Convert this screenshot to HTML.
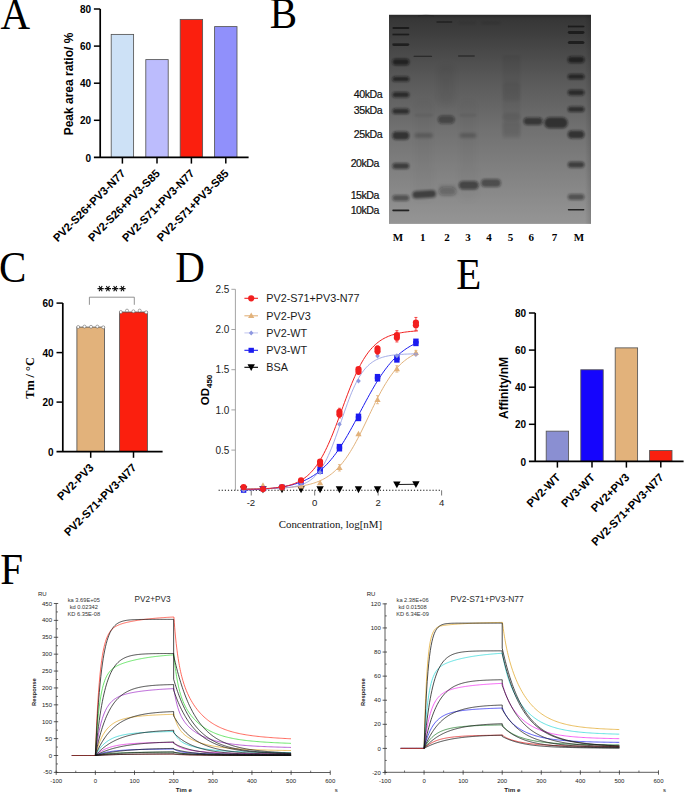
<!DOCTYPE html>
<html><head><meta charset="utf-8"><title>Figure</title>
<style>
html,body{margin:0;padding:0;background:#fff;}
body{width:685px;height:793px;overflow:hidden;font-family:"Liberation Sans", sans-serif;}
svg{display:block;position:absolute;left:0;top:0;}
</style></head><body>
<svg width="685" height="793" viewBox="0 0 685 793">
<text transform="translate(0.5,28.7) scale(1,1.075)" font-family='"Liberation Serif", serif' font-size="41" fill="#000">A</text>
<rect x="111.2" y="34.4" width="22.4" height="123" fill="#cde1f6" stroke="#555" stroke-width="0.85"/>
<rect x="145.8" y="59.6" width="22.4" height="97.8" fill="#bcbcfd" stroke="#555" stroke-width="0.85"/>
<rect x="180.2" y="19.4" width="22.4" height="138" fill="#fb1f0e" stroke="#555" stroke-width="0.85"/>
<rect x="214.6" y="26.6" width="22.4" height="130.8" fill="#9090fb" stroke="#555" stroke-width="0.85"/>
<path d="M100.2,9 V158.25 M93.9,157.4 H248.6" stroke="#000" stroke-width="1.7" fill="none"/>
<path d="M93.9,120.3 H100.2" stroke="#000" stroke-width="1.5"/>
<path d="M93.9,83.2 H100.2" stroke="#000" stroke-width="1.5"/>
<path d="M93.9,46.1 H100.2" stroke="#000" stroke-width="1.5"/>
<path d="M93.9,9 H100.2" stroke="#000" stroke-width="1.5"/>
<text x="91" y="161.5" font-family='"Liberation Sans", sans-serif' font-weight="bold" font-size="10" text-anchor="end">0</text>
<text x="91" y="124.4" font-family='"Liberation Sans", sans-serif' font-weight="bold" font-size="10" text-anchor="end">20</text>
<text x="91" y="87.3" font-family='"Liberation Sans", sans-serif' font-weight="bold" font-size="10" text-anchor="end">40</text>
<text x="91" y="50.2" font-family='"Liberation Sans", sans-serif' font-weight="bold" font-size="10" text-anchor="end">60</text>
<text x="91" y="13.1" font-family='"Liberation Sans", sans-serif' font-weight="bold" font-size="10" text-anchor="end">80</text>
<path d="M122.4,157.4 V163.6" stroke="#000" stroke-width="1.5"/>
<path d="M157,157.4 V163.6" stroke="#000" stroke-width="1.5"/>
<path d="M191.4,157.4 V163.6" stroke="#000" stroke-width="1.5"/>
<path d="M225.8,157.4 V163.6" stroke="#000" stroke-width="1.5"/>
<text transform="translate(126.1,174.2) rotate(-45)" font-family='"Liberation Sans", sans-serif' font-weight="bold" font-size="11.2" text-anchor="end">PV2-S26+PV3-N77</text>
<text transform="translate(160.7,174.2) rotate(-45)" font-family='"Liberation Sans", sans-serif' font-weight="bold" font-size="11.2" text-anchor="end">PV2-S26+PV3-S85</text>
<text transform="translate(195.1,174.2) rotate(-45)" font-family='"Liberation Sans", sans-serif' font-weight="bold" font-size="11.2" text-anchor="end">PV2-S71+PV3-N77</text>
<text transform="translate(229.5,174.2) rotate(-45)" font-family='"Liberation Sans", sans-serif' font-weight="bold" font-size="11.2" text-anchor="end">PV2-S71+PV3-S85</text>
<text transform="translate(72.5,84) rotate(-90)" font-family='"Liberation Sans", sans-serif' font-weight="bold" font-size="12" text-anchor="middle">Peak area ratio/ %</text>
<text transform="translate(269.8,27.9) scale(1,1.075)" font-family='"Liberation Serif", serif' font-size="41" fill="#000">B</text>
<defs><linearGradient id="gbg" x1="0" y1="0" x2="0" y2="1"><stop offset="0" stop-color="#343434"/><stop offset="0.08" stop-color="#3d3d3d"/><stop offset="0.3" stop-color="#585858"/><stop offset="0.55" stop-color="#717171"/><stop offset="0.8" stop-color="#858585"/><stop offset="1" stop-color="#959595"/></linearGradient><linearGradient id="ghz" x1="0" y1="0" x2="1" y2="0"><stop offset="0" stop-color="#000" stop-opacity="0.0"/><stop offset="0.97" stop-color="#000" stop-opacity="0"/><stop offset="1" stop-color="#000" stop-opacity="0.13"/></linearGradient><filter id="b0" x="-30%" y="-300%" width="160%" height="700%"><feGaussianBlur stdDeviation="0.5"/></filter><filter id="b1" x="-30%" y="-300%" width="160%" height="700%"><feGaussianBlur stdDeviation="0.85"/></filter><filter id="b2" x="-30%" y="-300%" width="160%" height="700%"><feGaussianBlur stdDeviation="1.4"/></filter><filter id="b3" x="-30%" y="-100%" width="160%" height="300%"><feGaussianBlur stdDeviation="3"/></filter><clipPath id="gclip"><rect x="389" y="14.8" width="202" height="209.1"/></clipPath></defs>
<rect x="389" y="14.8" width="202" height="209.1" fill="url(#gbg)"/>
<g clip-path="url(#gclip)">
<rect x="389" y="14.8" width="202" height="209.1" fill="url(#ghz)"/>
<rect x="502.5" y="55" width="18" height="84" rx="1" fill="#141414" fill-opacity="0.05" filter="url(#b1)"/>
<rect x="502.5" y="83" width="18" height="18" rx="3" fill="#141414" fill-opacity="0.05" filter="url(#b2)"/>
<rect x="502.5" y="113" width="18" height="8" rx="4" fill="#141414" fill-opacity="0.08" filter="url(#b2)"/>
<rect x="502.5" y="122" width="18" height="14" rx="3" fill="#141414" fill-opacity="0.07" filter="url(#b2)"/>
<rect x="437.5" y="65" width="17.5" height="40" rx="5" fill="#141414" fill-opacity="0.05" filter="url(#b3)"/>
<rect x="414" y="100" width="19" height="100" rx="5" fill="#141414" fill-opacity="0.025" filter="url(#b3)"/>
<rect x="459" y="100" width="18" height="100" rx="5" fill="#141414" fill-opacity="0.025" filter="url(#b3)"/>
<rect x="392.3" y="27.1" width="17" height="1.8" rx="0.9" fill="#141414" fill-opacity="0.75" filter="url(#b0)"/>
<rect x="392.3" y="33.4" width="17" height="2" rx="1" fill="#141414" fill-opacity="0.75" filter="url(#b0)"/>
<rect x="392.3" y="43.2" width="17" height="2.8" rx="1.4" fill="#141414" fill-opacity="0.72" filter="url(#b0)"/>
<rect x="392.3" y="58.8" width="17" height="6.4" rx="3.2" fill="#141414" fill-opacity="0.72" filter="url(#b1)"/>
<rect x="392.3" y="76.4" width="17" height="5.2" rx="2.6" fill="#141414" fill-opacity="0.7" filter="url(#b1)"/>
<rect x="392.3" y="91.9" width="17" height="5.6" rx="2.8" fill="#141414" fill-opacity="0.68" filter="url(#b1)"/>
<rect x="392.3" y="108.5" width="17" height="5.6" rx="2.8" fill="#141414" fill-opacity="0.66" filter="url(#b1)"/>
<rect x="392.3" y="131.6" width="17" height="8.2" rx="4.1" fill="#141414" fill-opacity="0.66" filter="url(#b1)"/>
<rect x="392.3" y="162.9" width="17" height="6" rx="3" fill="#141414" fill-opacity="0.6" filter="url(#b1)"/>
<rect x="392.3" y="195" width="17" height="6" rx="3" fill="#141414" fill-opacity="0.48" filter="url(#b1)"/>
<rect x="392.3" y="209.6" width="17" height="1.6" rx="0.8" fill="#141414" fill-opacity="0.9" filter="url(#b0)"/>
<rect x="567.8" y="25.4" width="16.6" height="2" rx="1" fill="#141414" fill-opacity="0.75" filter="url(#b0)"/>
<rect x="567.8" y="31.1" width="16.6" height="2.8" rx="1.4" fill="#141414" fill-opacity="0.72" filter="url(#b0)"/>
<rect x="567.8" y="40.9" width="16.6" height="3" rx="1.5" fill="#141414" fill-opacity="0.72" filter="url(#b0)"/>
<rect x="567.8" y="56.6" width="16.6" height="6.4" rx="3.2" fill="#141414" fill-opacity="0.72" filter="url(#b1)"/>
<rect x="567.8" y="74.1" width="16.6" height="5.2" rx="2.6" fill="#141414" fill-opacity="0.7" filter="url(#b1)"/>
<rect x="567.8" y="89.8" width="16.6" height="5.6" rx="2.8" fill="#141414" fill-opacity="0.68" filter="url(#b1)"/>
<rect x="567.8" y="106.5" width="16.6" height="5.6" rx="2.8" fill="#141414" fill-opacity="0.66" filter="url(#b1)"/>
<rect x="567.8" y="130.4" width="16.6" height="8.2" rx="4.1" fill="#141414" fill-opacity="0.66" filter="url(#b1)"/>
<rect x="567.8" y="161.8" width="16.6" height="6" rx="3" fill="#141414" fill-opacity="0.6" filter="url(#b1)"/>
<rect x="567.8" y="193.9" width="16.6" height="6" rx="3" fill="#141414" fill-opacity="0.48" filter="url(#b1)"/>
<rect x="567.8" y="209" width="16.6" height="1.6" rx="0.8" fill="#141414" fill-opacity="0.9" filter="url(#b0)"/>
<rect x="413.4" y="55.7" width="18.7" height="1.4" rx="0.7" fill="#141414" fill-opacity="0.58" filter="url(#b0)"/>
<rect x="414.5" y="114.3" width="18.5" height="2" rx="1" fill="#141414" fill-opacity="0.1" filter="url(#b1)"/>
<rect x="414.5" y="133" width="18.5" height="5" rx="2.5" fill="#141414" fill-opacity="0.2" filter="url(#b2)"/>
<rect x="-11.8" y="-3.8" width="23.6" height="7.6" rx="3.6" fill="#141414" fill-opacity="0.62" filter="url(#b1)" transform="translate(424.2,194.3) rotate(-3.5)"/>
<rect x="439" y="184" width="17" height="4" rx="2" fill="#141414" fill-opacity="0.06" filter="url(#b2)"/>
<rect x="436.5" y="21.25" width="15.8" height="1.5" rx="0.75" fill="#141414" fill-opacity="0.7" filter="url(#b0)"/>
<rect x="437.8" y="115.4" width="17" height="8.4" rx="4.2" fill="#141414" fill-opacity="0.45" filter="url(#b1)"/>
<rect x="438.6" y="186.9" width="17.7" height="8.6" rx="4.3" fill="#141414" fill-opacity="0.3" filter="url(#b2)"/>
<rect x="458.2" y="55.25" width="16.5" height="1.5" rx="0.75" fill="#141414" fill-opacity="0.6" filter="url(#b0)"/>
<rect x="459.5" y="114.3" width="16.9" height="2" rx="1" fill="#141414" fill-opacity="0.1" filter="url(#b1)"/>
<rect x="459.5" y="133" width="16.9" height="5" rx="2.5" fill="#141414" fill-opacity="0.2" filter="url(#b2)"/>
<rect x="458.7" y="181.1" width="20.1" height="8.4" rx="4.2" fill="#141414" fill-opacity="0.56" filter="url(#b1)"/>
<rect x="458.5" y="22" width="17.5" height="2" rx="1" fill="#141414" fill-opacity="0.12" filter="url(#b2)"/>
<rect x="481" y="179" width="19.9" height="8" rx="4" fill="#141414" fill-opacity="0.5" filter="url(#b1)"/>
<rect x="481" y="21.75" width="19.7" height="2.5" rx="1.25" fill="#141414" fill-opacity="0.12" filter="url(#b2)"/>
<rect x="523.6" y="117.6" width="19" height="7.4" rx="3.7" fill="#141414" fill-opacity="0.6" filter="url(#b1)"/>
<rect x="544.2" y="117.3" width="23.6" height="11" rx="5.5" fill="#141414" fill-opacity="0.66" filter="url(#b1)"/>
<rect x="389" y="14.6" width="202" height="2" rx="1" fill="#141414" fill-opacity="0.3" filter="url(#b1)"/>
<path d="M418,16 Q426,13.5 434,16" stroke="#222" stroke-width="1" fill="none" opacity="0.6"/>
</g>
<text x="382.2" y="98" font-family='"Liberation Sans", sans-serif' font-size="10.6" text-anchor="end" letter-spacing="-0.45" fill="#111" stroke="#111" stroke-width="0.2">40kDa</text>
<text x="382.2" y="113.7" font-family='"Liberation Sans", sans-serif' font-size="10.6" text-anchor="end" letter-spacing="-0.45" fill="#111" stroke="#111" stroke-width="0.2">35kDa</text>
<text x="382.2" y="138" font-family='"Liberation Sans", sans-serif' font-size="10.6" text-anchor="end" letter-spacing="-0.45" fill="#111" stroke="#111" stroke-width="0.2">25kDa</text>
<text x="379.0" y="166.8" font-family='"Liberation Sans", sans-serif' font-size="10.6" text-anchor="end" letter-spacing="-0.45" fill="#111" stroke="#111" stroke-width="0.2">20kDa</text>
<text x="379.0" y="199" font-family='"Liberation Sans", sans-serif' font-size="10.6" text-anchor="end" letter-spacing="-0.45" fill="#111" stroke="#111" stroke-width="0.2">15kDa</text>
<text x="379.0" y="213.8" font-family='"Liberation Sans", sans-serif' font-size="10.6" text-anchor="end" letter-spacing="-0.45" fill="#111" stroke="#111" stroke-width="0.2">10kDa</text>
<text x="398" y="240.8" font-family='"Liberation Serif", serif' font-weight="bold" font-size="11" text-anchor="middle">M</text>
<text x="422.7" y="240.8" font-family='"Liberation Serif", serif' font-weight="bold" font-size="11" text-anchor="middle">1</text>
<text x="447" y="240.8" font-family='"Liberation Serif", serif' font-weight="bold" font-size="11" text-anchor="middle">2</text>
<text x="468" y="240.8" font-family='"Liberation Serif", serif' font-weight="bold" font-size="11" text-anchor="middle">3</text>
<text x="489" y="240.8" font-family='"Liberation Serif", serif' font-weight="bold" font-size="11" text-anchor="middle">4</text>
<text x="510.4" y="240.8" font-family='"Liberation Serif", serif' font-weight="bold" font-size="11" text-anchor="middle">5</text>
<text x="531.3" y="240.8" font-family='"Liberation Serif", serif' font-weight="bold" font-size="11" text-anchor="middle">6</text>
<text x="554.4" y="240.8" font-family='"Liberation Serif", serif' font-weight="bold" font-size="11" text-anchor="middle">7</text>
<text x="579" y="240.8" font-family='"Liberation Serif", serif' font-weight="bold" font-size="11" text-anchor="middle">M</text>
<text transform="translate(-1,282.3) scale(1,1.075)" font-family='"Liberation Serif", serif' font-size="41" fill="#000">C</text>
<rect x="76.9" y="327.11" width="27.6" height="124.49" fill="#e2b27b" stroke="#555" stroke-width="0.85"/>
<rect x="119.6" y="312.01" width="27.8" height="139.59" fill="#fb1f0e" stroke="#555" stroke-width="0.85"/>
<circle cx="78.2" cy="327" r="1.5" fill="#fff" stroke="#555" stroke-width="0.5"/>
<circle cx="84.5" cy="326.6" r="1.5" fill="#fff" stroke="#555" stroke-width="0.5"/>
<circle cx="91" cy="326.8" r="1.5" fill="#fff" stroke="#555" stroke-width="0.5"/>
<circle cx="97.3" cy="326.6" r="1.5" fill="#fff" stroke="#555" stroke-width="0.5"/>
<circle cx="103.3" cy="327.3" r="1.5" fill="#fff" stroke="#555" stroke-width="0.5"/>
<circle cx="120.8" cy="312" r="1.5" fill="#fff" stroke="#555" stroke-width="0.5"/>
<circle cx="127" cy="310.6" r="1.5" fill="#fff" stroke="#555" stroke-width="0.5"/>
<circle cx="133.4" cy="311.3" r="1.5" fill="#fff" stroke="#555" stroke-width="0.5"/>
<circle cx="139.7" cy="310.6" r="1.5" fill="#fff" stroke="#555" stroke-width="0.5"/>
<circle cx="146.2" cy="312.3" r="1.5" fill="#fff" stroke="#555" stroke-width="0.5"/>
<path d="M62.8,303.1 V452.45 M56.5,451.6 H162.6" stroke="#000" stroke-width="1.7" fill="none"/>
<path d="M56.5,402.1 H62.8" stroke="#000" stroke-width="1.5"/>
<path d="M56.5,352.6 H62.8" stroke="#000" stroke-width="1.5"/>
<path d="M56.5,303.1 H62.8" stroke="#000" stroke-width="1.5"/>
<text x="53.6" y="455.7" font-family='"Liberation Sans", sans-serif' font-weight="bold" font-size="10" text-anchor="end">0</text>
<text x="53.6" y="406.2" font-family='"Liberation Sans", sans-serif' font-weight="bold" font-size="10" text-anchor="end">20</text>
<text x="53.6" y="356.7" font-family='"Liberation Sans", sans-serif' font-weight="bold" font-size="10" text-anchor="end">40</text>
<text x="53.6" y="307.2" font-family='"Liberation Sans", sans-serif' font-weight="bold" font-size="10" text-anchor="end">60</text>
<path d="M90.7,451.6 V457.8" stroke="#000" stroke-width="1.5"/>
<path d="M133.5,451.6 V457.8" stroke="#000" stroke-width="1.5"/>
<text transform="translate(94.4,468.4) rotate(-45)" font-family='"Liberation Sans", sans-serif' font-weight="bold" font-size="11.2" text-anchor="end">PV2-PV3</text>
<text transform="translate(137.2,468.4) rotate(-45)" font-family='"Liberation Sans", sans-serif' font-weight="bold" font-size="11.2" text-anchor="end">PV2-S71+PV3-N77</text>
<path d="M89.4,304.8 V297.2 H134.3 V304.8" stroke="#777" stroke-width="0.8" fill="none"/>
<path d="M97.5,288.6 L103.7,288.6 M99.05,285.92 L102.15,291.28 M102.15,285.92 L99.05,291.28 " stroke="#111" stroke-width="1.1"/>
<path d="M104.8,288.6 L111,288.6 M106.35,285.92 L109.45,291.28 M109.45,285.92 L106.35,291.28 " stroke="#111" stroke-width="1.1"/>
<path d="M112.1,288.6 L118.3,288.6 M113.65,285.92 L116.75,291.28 M116.75,285.92 L113.65,291.28 " stroke="#111" stroke-width="1.1"/>
<path d="M119.4,288.6 L125.6,288.6 M120.95,285.92 L124.05,291.28 M124.05,285.92 L120.95,291.28 " stroke="#111" stroke-width="1.1"/>
<text transform="translate(34.3,378) rotate(-90)" font-family='"Liberation Serif", serif' font-weight="bold" font-size="12.2" text-anchor="middle">Tm / &#176;C</text>
<text transform="translate(175.2,282) scale(1,1.075)" font-family='"Liberation Serif", serif' font-size="41" fill="#000">D</text>
<path d="M235.4,289.3 V490.3" stroke="#9a9a9a" stroke-width="0.9"/>
<path d="M231.4,450.1 H235.4" stroke="#9a9a9a" stroke-width="0.9"/>
<text x="229.4" y="453.7" font-family='"Liberation Sans", sans-serif' font-size="10" fill="#222" text-anchor="end">0.5</text>
<path d="M231.4,409.9 H235.4" stroke="#9a9a9a" stroke-width="0.9"/>
<text x="229.4" y="413.5" font-family='"Liberation Sans", sans-serif' font-size="10" fill="#222" text-anchor="end">1.0</text>
<path d="M231.4,369.7 H235.4" stroke="#9a9a9a" stroke-width="0.9"/>
<text x="229.4" y="373.3" font-family='"Liberation Sans", sans-serif' font-size="10" fill="#222" text-anchor="end">1.5</text>
<path d="M231.4,329.5 H235.4" stroke="#9a9a9a" stroke-width="0.9"/>
<text x="229.4" y="333.1" font-family='"Liberation Sans", sans-serif' font-size="10" fill="#222" text-anchor="end">2.0</text>
<path d="M231.4,289.3 H235.4" stroke="#9a9a9a" stroke-width="0.9"/>
<text x="229.4" y="292.9" font-family='"Liberation Sans", sans-serif' font-size="10" fill="#222" text-anchor="end">2.5</text>
<path d="M218.6,490.3 H441.5" stroke="#111" stroke-width="1.1" stroke-dasharray="1.2,1.9"/>
<path d="M251.24,490.3 V495.5" stroke="#666" stroke-width="0.9"/>
<text x="250.94" y="506.2" font-family='"Liberation Sans", sans-serif' font-size="9.6" fill="#222" text-anchor="middle">-2</text>
<path d="M314.7,490.3 V495.5" stroke="#666" stroke-width="0.9"/>
<text x="314.7" y="506.2" font-family='"Liberation Sans", sans-serif' font-size="9.6" fill="#222" text-anchor="middle">0</text>
<path d="M378.16,490.3 V495.5" stroke="#666" stroke-width="0.9"/>
<text x="378.16" y="506.2" font-family='"Liberation Sans", sans-serif' font-size="9.6" fill="#222" text-anchor="middle">2</text>
<path d="M441.62,490.3 V495.5" stroke="#666" stroke-width="0.9"/>
<text x="441.62" y="506.2" font-family='"Liberation Sans", sans-serif' font-size="9.6" fill="#222" text-anchor="middle">4</text>
<text x="330.4" y="527.6" font-family='"Liberation Serif", serif' font-size="10.9" fill="#111" text-anchor="middle">Concentration, log[nM]</text>
<text transform="translate(209.3,390) rotate(-90)" font-family='"Liberation Sans", sans-serif' font-weight="bold" font-size="11.5" text-anchor="middle">OD<tspan font-size="8" dy="3">450</tspan></text>
<polyline points="415.92,484.27 396.88,484.51" fill="none" stroke="#000" stroke-width="0.9"/>
<path d="M415.92,488.07 l3.7,-6.9 h-7.4z" fill="#000"/>
<path d="M396.88,488.31 l3.7,-6.9 h-7.4z" fill="#000"/>
<path d="M377.53,493.14 l3.7,-6.9 h-7.4z" fill="#000"/>
<path d="M358.49,493.14 l3.7,-6.9 h-7.4z" fill="#000"/>
<path d="M339.45,493.14 l3.7,-6.9 h-7.4z" fill="#000"/>
<path d="M320.09,493.14 l3.7,-6.9 h-7.4z" fill="#000"/>
<path d="M301.06,493.14 l3.7,-6.9 h-7.4z" fill="#000"/>
<path d="M282.02,493.14 l3.7,-6.9 h-7.4z" fill="#000"/>
<path d="M262.98,493.14 l3.7,-6.9 h-7.4z" fill="#000"/>
<path d="M243.62,493.14 l3.7,-6.9 h-7.4z" fill="#000"/>
<polyline points="241.72,488.72 243.19,488.71 244.66,488.7 246.12,488.69 247.59,488.68 249.06,488.67 250.53,488.66 251.99,488.65 253.46,488.63 254.93,488.62 256.4,488.6 257.86,488.58 259.33,488.56 260.8,488.54 262.27,488.52 263.73,488.49 265.2,488.46 266.67,488.43 268.14,488.4 269.6,488.36 271.07,488.32 272.54,488.28 274.01,488.23 275.47,488.18 276.94,488.12 278.41,488.06 279.88,488 281.34,487.93 282.81,487.85 284.28,487.76 285.75,487.67 287.21,487.57 288.68,487.46 290.15,487.34 291.62,487.21 293.08,487.07 294.55,486.91 296.02,486.75 297.49,486.57 298.95,486.37 300.42,486.15 301.89,485.92 303.36,485.67 304.82,485.39 306.29,485.09 307.76,484.77 309.23,484.42 310.69,484.04 312.16,483.63 313.63,483.18 315.1,482.7 316.56,482.18 318.03,481.61 319.5,481 320.97,480.34 322.43,479.63 323.9,478.87 325.37,478.04 326.84,477.16 328.3,476.2 329.77,475.18 331.24,474.09 332.71,472.91 334.17,471.66 335.64,470.32 337.11,468.89 338.58,467.37 340.04,465.76 341.51,464.05 342.98,462.24 344.45,460.33 345.91,458.32 347.38,456.2 348.85,453.99 350.32,451.68 351.78,449.26 353.25,446.76 354.72,444.16 356.19,441.48 357.65,438.72 359.12,435.88 360.59,432.98 362.06,430.03 363.52,427.03 364.99,423.99 366.46,420.93 367.93,417.86 369.39,414.78 370.86,411.71 372.33,408.66 373.8,405.64 375.26,402.66 376.73,399.74 378.2,396.87 379.67,394.07 381.13,391.35 382.6,388.72 384.07,386.17 385.54,383.71 387,381.35 388.47,379.09 389.94,376.92 391.41,374.86 392.87,372.91 394.34,371.05 395.81,369.29 397.28,367.63 398.74,366.07 400.21,364.6 401.68,363.22 403.15,361.92 404.61,360.71 406.08,359.58 407.55,358.52 409.02,357.54 410.48,356.62 411.95,355.76 413.42,354.97 414.89,354.23 416.35,353.55 417.82,352.92" fill="none" stroke="#e2b27b" stroke-width="1.0"/>
<path d="M415.92,349.52 l3.1,5.6 h-6.2z" fill="#e2b27b"/>
<path d="M396.88,365.6 l3.1,5.6 h-6.2z" fill="#e2b27b"/>
<path d="M377.53,396.39 l3.1,5.6 h-6.2z" fill="#e2b27b"/>
<path d="M358.49,430.72 l3.1,5.6 h-6.2z" fill="#e2b27b"/>
<path d="M339.45,464.49 l3.1,5.6 h-6.2z" fill="#e2b27b"/>
<path d="M320.09,479.76 l3.1,5.6 h-6.2z" fill="#e2b27b"/>
<path d="M301.06,482.98 l3.1,5.6 h-6.2z" fill="#e2b27b"/>
<path d="M282.02,484.59 l3.1,5.6 h-6.2z" fill="#e2b27b"/>
<path d="M262.98,482.18 l3.1,5.6 h-6.2z" fill="#e2b27b"/>
<path d="M243.62,485.39 l3.1,5.6 h-6.2z" fill="#e2b27b"/>
<polyline points="241.72,490.02 243.19,489.99 244.66,489.95 246.12,489.9 247.59,489.86 249.06,489.81 250.53,489.75 251.99,489.69 253.46,489.63 254.93,489.57 256.4,489.5 257.86,489.42 259.33,489.34 260.8,489.25 262.27,489.16 263.73,489.06 265.2,488.95 266.67,488.83 268.14,488.71 269.6,488.58 271.07,488.43 272.54,488.28 274.01,488.12 275.47,487.94 276.94,487.76 278.41,487.56 279.88,487.34 281.34,487.11 282.81,486.87 284.28,486.6 285.75,486.32 287.21,486.02 288.68,485.7 290.15,485.36 291.62,484.99 293.08,484.6 294.55,484.18 296.02,483.73 297.49,483.26 298.95,482.75 300.42,482.21 301.89,481.63 303.36,481.02 304.82,480.37 306.29,479.67 307.76,478.93 309.23,478.15 310.69,477.32 312.16,476.43 313.63,475.5 315.1,474.51 316.56,473.46 318.03,472.35 319.5,471.18 320.97,469.95 322.43,468.65 323.9,467.28 325.37,465.84 326.84,464.34 328.3,462.75 329.77,461.1 331.24,459.37 332.71,457.56 334.17,455.68 335.64,453.72 337.11,451.69 338.58,449.58 340.04,447.4 341.51,445.15 342.98,442.83 344.45,440.45 345.91,438 347.38,435.49 348.85,432.94 350.32,430.33 351.78,427.68 353.25,424.99 354.72,422.27 356.19,419.53 357.65,416.76 359.12,413.98 360.59,411.2 362.06,408.42 363.52,405.65 364.99,402.9 366.46,400.16 367.93,397.46 369.39,394.79 370.86,392.16 372.33,389.58 373.8,387.05 375.26,384.57 376.73,382.16 378.2,379.8 379.67,377.52 381.13,375.3 382.6,373.16 384.07,371.09 385.54,369.1 387,367.18 388.47,365.33 389.94,363.57 391.41,361.87 392.87,360.25 394.34,358.71 395.81,357.24 397.28,355.83 398.74,354.5 400.21,353.24 401.68,352.03 403.15,350.9 404.61,349.82 406.08,348.8 407.55,347.84 409.02,346.93 410.48,346.07 411.95,345.27 413.42,344.51 414.89,343.79 416.35,343.12 417.82,342.48" fill="none" stroke="#1b1bf0" stroke-width="1.0"/>
<rect x="413.22" y="338.56" width="5.4" height="5" fill="#1b1bf0"/>
<rect x="413.22" y="341.16" width="5.4" height="5" fill="#1b1bf0"/>
<rect x="394.18" y="355.05" width="5.4" height="5" fill="#1b1bf0"/>
<rect x="394.18" y="357.65" width="5.4" height="5" fill="#1b1bf0"/>
<rect x="374.83" y="373.94" width="5.4" height="5" fill="#1b1bf0"/>
<rect x="374.83" y="376.54" width="5.4" height="5" fill="#1b1bf0"/>
<rect x="355.79" y="413.58" width="5.4" height="5" fill="#1b1bf0"/>
<rect x="355.79" y="416.18" width="5.4" height="5" fill="#1b1bf0"/>
<rect x="336.75" y="443.89" width="5.4" height="5" fill="#1b1bf0"/>
<rect x="336.75" y="446.49" width="5.4" height="5" fill="#1b1bf0"/>
<rect x="317.39" y="466.4" width="5.4" height="5" fill="#1b1bf0"/>
<rect x="317.39" y="469" width="5.4" height="5" fill="#1b1bf0"/>
<rect x="298.36" y="479.76" width="5.4" height="5" fill="#1b1bf0"/>
<rect x="279.32" y="484.58" width="5.4" height="5" fill="#1b1bf0"/>
<rect x="260.28" y="486.19" width="5.4" height="5" fill="#1b1bf0"/>
<rect x="240.92" y="487.8" width="5.4" height="5" fill="#1b1bf0"/>
<polyline points="241.72,488.86 243.19,488.86 244.66,488.85 246.12,488.85 247.59,488.84 249.06,488.84 250.53,488.83 251.99,488.83 253.46,488.82 254.93,488.81 256.4,488.8 257.86,488.79 259.33,488.77 260.8,488.76 262.27,488.74 263.73,488.72 265.2,488.7 266.67,488.67 268.14,488.65 269.6,488.61 271.07,488.58 272.54,488.54 274.01,488.49 275.47,488.43 276.94,488.37 278.41,488.3 279.88,488.23 281.34,488.14 282.81,488.04 284.28,487.92 285.75,487.79 287.21,487.64 288.68,487.48 290.15,487.29 291.62,487.08 293.08,486.83 294.55,486.56 296.02,486.25 297.49,485.9 298.95,485.51 300.42,485.06 301.89,484.56 303.36,483.99 304.82,483.36 306.29,482.64 307.76,481.84 309.23,480.94 310.69,479.93 312.16,478.8 313.63,477.55 315.1,476.16 316.56,474.61 318.03,472.9 319.5,471.02 320.97,468.95 322.43,466.69 323.9,464.23 325.37,461.56 326.84,458.68 328.3,455.59 329.77,452.29 331.24,448.8 332.71,445.12 334.17,441.27 335.64,437.27 337.11,433.15 338.58,428.94 340.04,424.67 341.51,420.37 342.98,416.08 344.45,411.82 345.91,407.65 347.38,403.57 348.85,399.64 350.32,395.85 351.78,392.25 353.25,388.83 354.72,385.62 356.19,382.62 357.65,379.82 359.12,377.24 360.59,374.86 362.06,372.68 363.52,370.69 364.99,368.88 366.46,367.24 367.93,365.76 369.39,364.42 370.86,363.22 372.33,362.15 373.8,361.19 375.26,360.33 376.73,359.56 378.2,358.88 379.67,358.27 381.13,357.73 382.6,357.25 384.07,356.83 385.54,356.46 387,356.12 388.47,355.83 389.94,355.57 391.41,355.34 392.87,355.14 394.34,354.96 395.81,354.8 397.28,354.66 398.74,354.53 400.21,354.43 401.68,354.33 403.15,354.25 404.61,354.17 406.08,354.11 407.55,354.05 409.02,354 410.48,353.95 411.95,353.91 413.42,353.88 414.89,353.85 416.35,353.82 417.82,353.8" fill="none" stroke="#8e98e0" stroke-width="0.8"/>
<path d="M415.92,351.92 l2.3,2.5 l-2.3,2.5 l-2.3,-2.5z" fill="#8e98e0"/>
<path d="M396.88,353.13 l2.3,2.5 l-2.3,2.5 l-2.3,-2.5z" fill="#8e98e0"/>
<path d="M377.53,353.53 l2.3,2.5 l-2.3,2.5 l-2.3,-2.5z" fill="#8e98e0"/>
<path d="M358.49,378.46 l2.3,2.5 l-2.3,2.5 l-2.3,-2.5z" fill="#8e98e0"/>
<path d="M339.45,421.87 l2.3,2.5 l-2.3,2.5 l-2.3,-2.5z" fill="#8e98e0"/>
<path d="M320.09,470.11 l2.3,2.5 l-2.3,2.5 l-2.3,-2.5z" fill="#8e98e0"/>
<path d="M301.06,480.56 l2.3,2.5 l-2.3,2.5 l-2.3,-2.5z" fill="#8e98e0"/>
<path d="M282.02,484.58 l2.3,2.5 l-2.3,2.5 l-2.3,-2.5z" fill="#8e98e0"/>
<path d="M262.98,486.19 l2.3,2.5 l-2.3,2.5 l-2.3,-2.5z" fill="#8e98e0"/>
<path d="M243.62,487.8 l2.3,2.5 l-2.3,2.5 l-2.3,-2.5z" fill="#8e98e0"/>
<polyline points="241.72,489.33 243.19,489.31 244.66,489.29 246.12,489.27 247.59,489.25 249.06,489.22 250.53,489.19 251.99,489.16 253.46,489.13 254.93,489.09 256.4,489.04 257.86,489 259.33,488.94 260.8,488.88 262.27,488.82 263.73,488.75 265.2,488.67 266.67,488.58 268.14,488.49 269.6,488.38 271.07,488.26 272.54,488.13 274.01,487.99 275.47,487.83 276.94,487.66 278.41,487.47 279.88,487.26 281.34,487.02 282.81,486.76 284.28,486.48 285.75,486.17 287.21,485.82 288.68,485.44 290.15,485.03 291.62,484.57 293.08,484.06 294.55,483.51 296.02,482.9 297.49,482.23 298.95,481.5 300.42,480.7 301.89,479.83 303.36,478.87 304.82,477.83 306.29,476.69 307.76,475.46 309.23,474.11 310.69,472.66 312.16,471.08 313.63,469.37 315.1,467.54 316.56,465.56 318.03,463.44 319.5,461.17 320.97,458.75 322.43,456.17 323.9,453.44 325.37,450.55 326.84,447.51 328.3,444.32 329.77,440.99 331.24,437.53 332.71,433.94 334.17,430.25 335.64,426.45 337.11,422.58 338.58,418.64 340.04,414.65 341.51,410.65 342.98,406.64 344.45,402.64 345.91,398.68 347.38,394.77 348.85,390.94 350.32,387.2 351.78,383.57 353.25,380.05 354.72,376.66 356.19,373.41 357.65,370.3 359.12,367.35 360.59,364.55 362.06,361.91 363.52,359.42 364.99,357.08 366.46,354.9 367.93,352.86 369.39,350.96 370.86,349.2 372.33,347.57 373.8,346.06 375.26,344.67 376.73,343.39 378.2,342.21 379.67,341.12 381.13,340.13 382.6,339.22 384.07,338.39 385.54,337.63 387,336.94 388.47,336.31 389.94,335.73 391.41,335.2 392.87,334.73 394.34,334.29 395.81,333.9 397.28,333.54 398.74,333.21 400.21,332.91 401.68,332.65 403.15,332.4 404.61,332.18 406.08,331.98 407.55,331.8 409.02,331.63 410.48,331.48 411.95,331.35 413.42,331.23 414.89,331.12 416.35,331.02 417.82,330.93" fill="none" stroke="#f21f1f" stroke-width="1.0"/>
<circle cx="415.92" cy="322.57" r="3.1" fill="#f21f1f"/>
<circle cx="415.92" cy="325.17" r="3.1" fill="#f21f1f"/>
<circle cx="396.88" cy="335.03" r="3.1" fill="#f21f1f"/>
<circle cx="396.88" cy="337.63" r="3.1" fill="#f21f1f"/>
<circle cx="377.53" cy="348.7" r="3.1" fill="#f21f1f"/>
<circle cx="377.53" cy="351.3" r="3.1" fill="#f21f1f"/>
<circle cx="358.49" cy="369.2" r="3.1" fill="#f21f1f"/>
<circle cx="358.49" cy="371.8" r="3.1" fill="#f21f1f"/>
<circle cx="339.45" cy="411.82" r="3.1" fill="#f21f1f"/>
<circle cx="339.45" cy="414.42" r="3.1" fill="#f21f1f"/>
<circle cx="320.09" cy="461.66" r="3.1" fill="#f21f1f"/>
<circle cx="320.09" cy="464.26" r="3.1" fill="#f21f1f"/>
<circle cx="301.06" cy="480.25" r="3.1" fill="#f21f1f"/>
<circle cx="282.02" cy="487.08" r="3.1" fill="#f21f1f"/>
<circle cx="262.98" cy="489.09" r="3.1" fill="#f21f1f"/>
<circle cx="243.62" cy="487.08" r="3.1" fill="#f21f1f"/>
<path d="M415.92,317.44 V330.3 M414.42,317.44 h3 M414.42,330.3 h3" stroke="#f21f1f" stroke-width="0.8"/>
<path d="M396.88,330.71 V341.96 M395.38,330.71 h3 M395.38,341.96 h3" stroke="#f21f1f" stroke-width="0.8"/>
<path d="M377.53,345.98 V354.02 M376.03,345.98 h3 M376.03,354.02 h3" stroke="#f21f1f" stroke-width="0.8"/>
<path d="M339.45,408.29 V417.94 M337.95,408.29 h3 M337.95,417.94 h3" stroke="#f21f1f" stroke-width="0.8"/>
<path d="M320.09,459.75 V466.18 M318.59,459.75 h3 M318.59,466.18 h3" stroke="#f21f1f" stroke-width="0.8"/>
<path d="M377.53,395.67 V403.71 M376.03,395.67 h3 M376.03,403.71 h3" stroke="#e2b27b" stroke-width="0.8"/>
<path d="M396.88,365.68 V372.11 M395.38,365.68 h3 M395.38,372.11 h3" stroke="#e2b27b" stroke-width="0.8"/>
<path d="M339.45,464.57 V471 M337.95,464.57 h3 M337.95,471 h3" stroke="#e2b27b" stroke-width="0.8"/>
<path d="M415.92,350.4 V355.23 M414.42,350.4 h3 M414.42,355.23 h3" stroke="#e2b27b" stroke-width="0.8"/>
<path d="M244.4,298.3 H258" stroke="#f21f1f" stroke-width="1.1"/>
<circle cx="251.2" cy="298.3" r="3.1" fill="#f21f1f"/>
<text x="266.3" y="302.2" font-family='"Liberation Sans", sans-serif' font-size="10.8" fill="#1a1a1a">PV2-S71+PV3-N77</text>
<path d="M244.4,315.8 H258" stroke="#e2b27b" stroke-width="1.1"/>
<path d="M251.2,312.5 l3.1,5.6 h-6.2z" fill="#e2b27b"/>
<text x="266.3" y="319.7" font-family='"Liberation Sans", sans-serif' font-size="10.8" fill="#1a1a1a">PV2-PV3</text>
<path d="M244.4,332.9 H258" stroke="#c6caf0" stroke-width="1.1"/>
<path d="M251.2,330.4 l2.3,2.5 l-2.3,2.5 l-2.3,-2.5z" fill="#8e98e0"/>
<text x="266.3" y="336.8" font-family='"Liberation Sans", sans-serif' font-size="10.8" fill="#1a1a1a">PV2-WT</text>
<path d="M244.4,350.3 H258" stroke="#1b1bf0" stroke-width="1.1"/>
<rect x="248.5" y="347.8" width="5.4" height="5" fill="#1b1bf0"/>
<text x="266.3" y="354.2" font-family='"Liberation Sans", sans-serif' font-size="10.8" fill="#1a1a1a">PV3-WT</text>
<path d="M244.4,367.3 H258" stroke="#000" stroke-width="1.1"/>
<path d="M251.2,371.1 l3.7,-6.9 h-7.4z" fill="#000"/>
<text x="266.3" y="371.2" font-family='"Liberation Sans", sans-serif' font-size="10.8" fill="#1a1a1a">BSA</text>
<text transform="translate(456.3,289) scale(1,1.075)" font-family='"Liberation Serif", serif' font-size="41" fill="#000">E</text>
<rect x="546.2" y="431.16" width="22.4" height="30.24" fill="#8a8fd2" stroke="#555" stroke-width="0.85"/>
<rect x="580.8" y="369.76" width="22.4" height="91.64" fill="#1505fd" stroke="#555" stroke-width="0.85"/>
<rect x="615.2" y="347.87" width="22.4" height="113.53" fill="#e2b27b" stroke="#555" stroke-width="0.85"/>
<rect x="649.6" y="450.46" width="22.4" height="10.94" fill="#f9200f" stroke="#555" stroke-width="0.85"/>
<path d="M535.2,313 V462.25 M528.9,461.4 H683.6" stroke="#000" stroke-width="1.7" fill="none"/>
<path d="M528.9,424.3 H535.2" stroke="#000" stroke-width="1.5"/>
<path d="M528.9,387.2 H535.2" stroke="#000" stroke-width="1.5"/>
<path d="M528.9,350.1 H535.2" stroke="#000" stroke-width="1.5"/>
<path d="M528.9,313 H535.2" stroke="#000" stroke-width="1.5"/>
<text x="526" y="465.5" font-family='"Liberation Sans", sans-serif' font-weight="bold" font-size="10" text-anchor="end">0</text>
<text x="526" y="428.4" font-family='"Liberation Sans", sans-serif' font-weight="bold" font-size="10" text-anchor="end">20</text>
<text x="526" y="391.3" font-family='"Liberation Sans", sans-serif' font-weight="bold" font-size="10" text-anchor="end">40</text>
<text x="526" y="354.2" font-family='"Liberation Sans", sans-serif' font-weight="bold" font-size="10" text-anchor="end">60</text>
<text x="526" y="317.1" font-family='"Liberation Sans", sans-serif' font-weight="bold" font-size="10" text-anchor="end">80</text>
<path d="M557.4,461.4 V467.6" stroke="#000" stroke-width="1.5"/>
<path d="M592,461.4 V467.6" stroke="#000" stroke-width="1.5"/>
<path d="M626.4,461.4 V467.6" stroke="#000" stroke-width="1.5"/>
<path d="M660.8,461.4 V467.6" stroke="#000" stroke-width="1.5"/>
<text transform="translate(561.1,478.2) rotate(-45)" font-family='"Liberation Sans", sans-serif' font-weight="bold" font-size="11.2" text-anchor="end">PV2-WT</text>
<text transform="translate(595.7,478.2) rotate(-45)" font-family='"Liberation Sans", sans-serif' font-weight="bold" font-size="11.2" text-anchor="end">PV3-WT</text>
<text transform="translate(630.1,478.2) rotate(-45)" font-family='"Liberation Sans", sans-serif' font-weight="bold" font-size="11.2" text-anchor="end">PV2+PV3</text>
<text transform="translate(664.5,478.2) rotate(-45)" font-family='"Liberation Sans", sans-serif' font-weight="bold" font-size="11.2" text-anchor="end">PV2-S71+PV3-N77</text>
<text transform="translate(507.5,388) rotate(-90)" font-family='"Liberation Sans", sans-serif' font-weight="bold" font-size="12" text-anchor="middle">Affinity/nM</text>
<text transform="translate(0.2,583.9) scale(1,1.075)" font-family='"Liberation Serif", serif' font-size="41" fill="#000">F</text>
<path d="M56.2,603.4 V772.5 H330.25" stroke="#333" stroke-width="0.8" fill="none"/>
<path d="M53.8,772.39 H58.2" stroke="#333" stroke-width="0.8"/>
<text x="52" y="774.49" font-family='"Liberation Sans", sans-serif' font-size="6" fill="#222" text-anchor="end">-50</text>
<path d="M56.2,763.95 H58" stroke="#333" stroke-width="0.7"/>
<path d="M53.8,755.5 H58.2" stroke="#333" stroke-width="0.8"/>
<text x="52" y="757.6" font-family='"Liberation Sans", sans-serif' font-size="6" fill="#222" text-anchor="end">0</text>
<path d="M56.2,747.05 H58" stroke="#333" stroke-width="0.7"/>
<path d="M53.8,738.61 H58.2" stroke="#333" stroke-width="0.8"/>
<text x="52" y="740.71" font-family='"Liberation Sans", sans-serif' font-size="6" fill="#222" text-anchor="end">50</text>
<path d="M56.2,730.16 H58" stroke="#333" stroke-width="0.7"/>
<path d="M53.8,721.72 H58.2" stroke="#333" stroke-width="0.8"/>
<text x="52" y="723.82" font-family='"Liberation Sans", sans-serif' font-size="6" fill="#222" text-anchor="end">100</text>
<path d="M56.2,713.27 H58" stroke="#333" stroke-width="0.7"/>
<path d="M53.8,704.83 H58.2" stroke="#333" stroke-width="0.8"/>
<text x="52" y="706.93" font-family='"Liberation Sans", sans-serif' font-size="6" fill="#222" text-anchor="end">150</text>
<path d="M56.2,696.38 H58" stroke="#333" stroke-width="0.7"/>
<path d="M53.8,687.94 H58.2" stroke="#333" stroke-width="0.8"/>
<text x="52" y="690.04" font-family='"Liberation Sans", sans-serif' font-size="6" fill="#222" text-anchor="end">200</text>
<path d="M56.2,679.5 H58" stroke="#333" stroke-width="0.7"/>
<path d="M53.8,671.05 H58.2" stroke="#333" stroke-width="0.8"/>
<text x="52" y="673.15" font-family='"Liberation Sans", sans-serif' font-size="6" fill="#222" text-anchor="end">250</text>
<path d="M56.2,662.61 H58" stroke="#333" stroke-width="0.7"/>
<path d="M53.8,654.16 H58.2" stroke="#333" stroke-width="0.8"/>
<text x="52" y="656.26" font-family='"Liberation Sans", sans-serif' font-size="6" fill="#222" text-anchor="end">300</text>
<path d="M56.2,645.72 H58" stroke="#333" stroke-width="0.7"/>
<path d="M53.8,637.27 H58.2" stroke="#333" stroke-width="0.8"/>
<text x="52" y="639.37" font-family='"Liberation Sans", sans-serif' font-size="6" fill="#222" text-anchor="end">350</text>
<path d="M56.2,628.83 H58" stroke="#333" stroke-width="0.7"/>
<path d="M53.8,620.38 H58.2" stroke="#333" stroke-width="0.8"/>
<text x="52" y="622.48" font-family='"Liberation Sans", sans-serif' font-size="6" fill="#222" text-anchor="end">400</text>
<path d="M56.2,611.93 H58" stroke="#333" stroke-width="0.7"/>
<path d="M53.8,603.49 H58.2" stroke="#333" stroke-width="0.8"/>
<text x="52" y="605.59" font-family='"Liberation Sans", sans-serif' font-size="6" fill="#222" text-anchor="end">450</text>
<path d="M56.2,770.5 V774.9" stroke="#333" stroke-width="0.8"/>
<text x="56.2" y="783.1" font-family='"Liberation Sans", sans-serif' font-size="6" fill="#222" text-anchor="middle">-100</text>
<path d="M75.78,770.7 V772.5" stroke="#333" stroke-width="0.7"/>
<path d="M95.35,770.5 V774.9" stroke="#333" stroke-width="0.8"/>
<text x="95.35" y="783.1" font-family='"Liberation Sans", sans-serif' font-size="6" fill="#222" text-anchor="middle">0</text>
<path d="M114.93,770.7 V772.5" stroke="#333" stroke-width="0.7"/>
<path d="M134.5,770.5 V774.9" stroke="#333" stroke-width="0.8"/>
<text x="134.5" y="783.1" font-family='"Liberation Sans", sans-serif' font-size="6" fill="#222" text-anchor="middle">100</text>
<path d="M154.07,770.7 V772.5" stroke="#333" stroke-width="0.7"/>
<path d="M173.65,770.5 V774.9" stroke="#333" stroke-width="0.8"/>
<text x="173.65" y="783.1" font-family='"Liberation Sans", sans-serif' font-size="6" fill="#222" text-anchor="middle">200</text>
<path d="M193.23,770.7 V772.5" stroke="#333" stroke-width="0.7"/>
<path d="M212.8,770.5 V774.9" stroke="#333" stroke-width="0.8"/>
<text x="212.8" y="783.1" font-family='"Liberation Sans", sans-serif' font-size="6" fill="#222" text-anchor="middle">300</text>
<path d="M232.38,770.7 V772.5" stroke="#333" stroke-width="0.7"/>
<path d="M251.95,770.5 V774.9" stroke="#333" stroke-width="0.8"/>
<text x="251.95" y="783.1" font-family='"Liberation Sans", sans-serif' font-size="6" fill="#222" text-anchor="middle">400</text>
<path d="M271.53,770.7 V772.5" stroke="#333" stroke-width="0.7"/>
<path d="M291.1,770.5 V774.9" stroke="#333" stroke-width="0.8"/>
<text x="291.1" y="783.1" font-family='"Liberation Sans", sans-serif' font-size="6" fill="#222" text-anchor="middle">500</text>
<path d="M310.68,770.7 V772.5" stroke="#333" stroke-width="0.7"/>
<path d="M330.25,770.5 V774.9" stroke="#333" stroke-width="0.8"/>
<text x="330.25" y="783.1" font-family='"Liberation Sans", sans-serif' font-size="6" fill="#222" text-anchor="middle">600</text>
<text x="37.9" y="595.5" font-family='"Liberation Sans", sans-serif' font-size="6" fill="#222">RU</text>
<text x="334.75" y="791.5" font-family='"Liberation Sans", sans-serif' font-size="6" fill="#222">s</text>
<text x="183.83" y="791.5" font-family='"Liberation Sans", sans-serif' font-size="6.2" font-weight="bold" fill="#222" text-anchor="middle">Tim e</text>
<text transform="translate(36.2,692.15) rotate(-90)" font-family='"Liberation Sans", sans-serif' font-size="5.8" font-weight="bold" fill="#222" text-anchor="middle">Response</text>
<text x="83.8" y="601.6" font-family='"Liberation Sans", sans-serif' font-size="5.7" fill="#333" text-anchor="middle">ka 3.69E+05</text>
<text x="83.8" y="608.7" font-family='"Liberation Sans", sans-serif' font-size="5.7" fill="#333" text-anchor="middle">kd 0.02342</text>
<text x="83.8" y="615.8" font-family='"Liberation Sans", sans-serif' font-size="5.7" fill="#333" text-anchor="middle">KD 6.35E-08</text>
<text x="134.6" y="602" font-family='"Liberation Sans", sans-serif' font-size="9.3" fill="#2a2a2a" textLength="35.9" lengthAdjust="spacingAndGlyphs">PV2+PV3</text>
<polyline points="71.86,755.5 75.78,755.5 79.69,755.5 83.61,755.5 87.52,755.5 91.44,755.5 95.35,755.5 96.13,735.64 96.92,718.88 97.7,704.74 98.48,692.79 99.27,682.69 100.05,674.15 100.83,666.92 101.61,660.79 102.4,655.59 103.18,651.17 103.96,647.4 104.75,644.19 105.53,641.45 106.31,639.1 107.09,637.08 107.88,635.34 108.66,633.84 109.44,632.54 110.23,631.4 111.01,630.41 111.79,629.54 112.58,628.77 113.36,628.09 114.14,627.48 114.93,626.94 115.71,626.45 116.49,626 117.27,625.6 118.06,625.23 118.84,624.88 119.62,624.57 120.41,624.27 121.19,624 121.97,623.74 122.76,623.49 123.54,623.26 124.32,623.04 125.1,622.83 125.89,622.63 126.67,622.44 127.45,622.26 128.24,622.08 129.02,621.91 129.8,621.75 130.59,621.59 131.37,621.43 132.15,621.28 132.93,621.14 133.72,620.99 134.5,620.86 135.28,620.72 136.07,620.59 136.85,620.47 137.63,620.34 138.42,620.22 139.2,620.11 139.98,619.99 140.76,619.88 141.55,619.78 142.33,619.67 143.11,619.57 143.9,619.47 144.68,619.37 145.46,619.27 146.25,619.18 147.03,619.09 147.81,619 148.59,618.91 149.38,618.83 150.16,618.75 150.94,618.66 151.73,618.59 152.51,618.51 153.29,618.43 154.07,618.36 154.86,618.29 155.64,618.22 156.42,618.15 157.21,618.09 157.99,618.02 158.77,617.96 159.56,617.9 160.34,617.83 161.12,617.78 161.91,617.72 162.69,617.66 163.47,617.61 164.25,617.55 165.04,617.5 165.82,617.45 166.6,617.4 167.39,617.35 168.17,617.3 168.95,617.26 169.74,617.21 170.52,617.17 171.3,617.13 172.08,617.08 172.87,617.04 173.65,617 173.88,617 174.28,622.33 174.67,627.26 175.06,631.82 175.45,636.06 175.84,639.99 176.23,643.65 176.63,647.05 177.02,650.23 177.41,653.2 177.8,655.98 178.19,658.59 178.58,661.03 178.97,663.34 179.37,665.5 179.76,667.55 180.15,669.49 180.54,671.32 180.93,673.06 181.32,674.71 181.71,676.29 182.89,680.59 184.06,684.36 185.24,687.72 186.41,690.74 187.59,693.47 188.76,695.98 189.94,698.29 191.11,700.43 192.29,702.43 193.46,704.29 194.63,706.04 195.81,707.68 196.98,709.23 198.16,710.69 199.33,712.07 200.51,713.38 201.68,714.62 202.86,715.79 204.03,716.9 205.2,717.95 206.38,718.95 207.55,719.9 208.73,720.8 209.9,721.65 211.08,722.47 212.25,723.24 213.43,723.97 214.6,724.67 215.78,725.33 216.95,725.96 218.12,726.56 219.3,727.13 220.47,727.67 221.65,728.18 222.82,728.67 224,729.14 225.17,729.59 226.35,730.01 227.52,730.41 228.69,730.8 229.87,731.16 231.04,731.51 232.22,731.85 233.39,732.17 234.57,732.47 235.74,732.76 236.92,733.04 238.09,733.3 239.27,733.55 240.44,733.8 241.61,734.03 242.79,734.25 243.96,734.46 245.14,734.66 246.31,734.86 247.49,735.04 248.66,735.22 249.84,735.39 251.01,735.56 252.18,735.72 253.36,735.87 254.53,736.01 255.71,736.15 256.88,736.29 258.06,736.42 259.23,736.54 260.41,736.67 261.58,736.78 262.76,736.9 263.93,737 265.1,737.11 266.28,737.21 267.45,737.31 268.63,737.4 269.8,737.5 270.98,737.59 272.15,737.67 273.33,737.76 274.5,737.84 275.67,737.92 276.85,738 278.02,738.07 279.2,738.15 280.37,738.22 281.55,738.29 282.72,738.36 283.9,738.42 285.07,738.49 286.25,738.55 287.42,738.61 288.59,738.68 289.77,738.74 290.94,738.79" fill="none" stroke="#ff3a2a" stroke-width="0.75"/>
<polyline points="71.86,755.5 75.78,755.5 79.69,755.5 83.61,755.5 87.52,755.5 91.44,755.5 95.35,755.5 96.13,742.27 96.92,731.09 97.7,721.65 98.48,713.65 99.27,706.87 100.05,701.12 100.83,696.22 101.61,692.05 102.4,688.48 103.18,685.42 103.96,682.8 104.75,680.53 105.53,678.57 106.31,676.86 107.09,675.37 107.88,674.07 108.66,672.92 109.44,671.9 110.23,670.99 111.01,670.17 111.79,669.44 112.58,668.77 113.36,668.17 114.14,667.61 114.93,667.1 115.71,666.62 116.49,666.18 117.27,665.77 118.06,665.38 118.84,665.01 119.62,664.66 120.41,664.33 121.19,664.01 121.97,663.71 122.76,663.42 123.54,663.14 124.32,662.87 125.1,662.61 125.89,662.36 126.67,662.12 127.45,661.88 128.24,661.66 129.02,661.43 129.8,661.22 130.59,661.01 131.37,660.81 132.15,660.61 132.93,660.42 133.72,660.23 134.5,660.05 135.28,659.87 136.07,659.69 136.85,659.52 137.63,659.36 138.42,659.2 139.2,659.04 139.98,658.89 140.76,658.74 141.55,658.59 142.33,658.45 143.11,658.31 143.9,658.17 144.68,658.04 145.46,657.91 146.25,657.79 147.03,657.66 147.81,657.54 148.59,657.42 149.38,657.31 150.16,657.2 150.94,657.09 151.73,656.98 152.51,656.88 153.29,656.78 154.07,656.68 154.86,656.58 155.64,656.49 156.42,656.39 157.21,656.3 157.99,656.22 158.77,656.13 159.56,656.05 160.34,655.96 161.12,655.88 161.91,655.81 162.69,655.73 163.47,655.66 164.25,655.58 165.04,655.51 165.82,655.44 166.6,655.38 167.39,655.31 168.17,655.25 168.95,655.18 169.74,655.12 170.52,655.06 171.3,655 172.08,654.95 172.87,654.89 173.65,654.84 173.88,654.84 174.28,658.71 174.67,662.29 175.06,665.61 175.45,668.69 175.84,671.54 176.23,674.2 176.63,676.68 177.02,678.99 177.41,681.15 177.8,683.17 178.19,685.06 178.58,686.84 178.97,688.51 179.37,690.09 179.76,691.58 180.15,692.98 180.54,694.32 180.93,695.58 181.32,696.78 181.71,697.93 182.89,701.05 184.06,703.8 185.24,706.23 186.41,708.43 187.59,710.42 188.76,712.24 189.94,713.92 191.11,715.47 192.29,716.92 193.46,718.28 194.63,719.55 195.81,720.74 196.98,721.87 198.16,722.93 199.33,723.94 200.51,724.89 201.68,725.78 202.86,726.64 204.03,727.44 205.2,728.21 206.38,728.93 207.55,729.62 208.73,730.28 209.9,730.9 211.08,731.49 212.25,732.05 213.43,732.58 214.6,733.09 215.78,733.57 216.95,734.03 218.12,734.46 219.3,734.88 220.47,735.27 221.65,735.65 222.82,736 224,736.34 225.17,736.66 226.35,736.97 227.52,737.27 228.69,737.55 229.87,737.81 231.04,738.07 232.22,738.31 233.39,738.54 234.57,738.76 235.74,738.97 236.92,739.17 238.09,739.36 239.27,739.55 240.44,739.72 241.61,739.89 242.79,740.05 243.96,740.21 245.14,740.35 246.31,740.5 247.49,740.63 248.66,740.76 249.84,740.89 251.01,741.01 252.18,741.12 253.36,741.23 254.53,741.34 255.71,741.44 256.88,741.54 258.06,741.63 259.23,741.72 260.41,741.81 261.58,741.9 262.76,741.98 263.93,742.06 265.1,742.13 266.28,742.21 267.45,742.28 268.63,742.35 269.8,742.41 270.98,742.48 272.15,742.54 273.33,742.6 274.5,742.66 275.67,742.72 276.85,742.78 278.02,742.83 279.2,742.89 280.37,742.94 281.55,742.99 282.72,743.04 283.9,743.09 285.07,743.14 286.25,743.18 287.42,743.23 288.59,743.27 289.77,743.32 290.94,743.36" fill="none" stroke="#3cdc3c" stroke-width="0.75"/>
<polyline points="71.86,755.5 75.78,755.5 79.69,755.5 83.61,755.5 87.52,755.5 91.44,755.5 95.35,755.5 96.13,749.35 96.92,743.84 97.7,738.91 98.48,734.5 99.27,730.54 100.05,727 100.83,723.81 101.61,720.95 102.4,718.38 103.18,716.07 103.96,713.98 104.75,712.1 105.53,710.4 106.31,708.87 107.09,707.48 107.88,706.22 108.66,705.08 109.44,704.04 110.23,703.09 111.01,702.23 111.79,701.44 112.58,700.71 113.36,700.05 114.14,699.44 114.93,698.88 115.71,698.36 116.49,697.88 117.27,697.44 118.06,697.02 118.84,696.64 119.62,696.28 120.41,695.95 121.19,695.63 121.97,695.34 122.76,695.06 123.54,694.8 124.32,694.55 125.1,694.31 125.89,694.09 126.67,693.88 127.45,693.68 128.24,693.49 129.02,693.3 129.8,693.13 130.59,692.96 131.37,692.8 132.15,692.64 132.93,692.5 133.72,692.35 134.5,692.21 135.28,692.08 136.07,691.95 136.85,691.83 137.63,691.71 138.42,691.59 139.2,691.48 139.98,691.37 140.76,691.26 141.55,691.16 142.33,691.06 143.11,690.96 143.9,690.87 144.68,690.78 145.46,690.69 146.25,690.6 147.03,690.52 147.81,690.43 148.59,690.35 149.38,690.27 150.16,690.2 150.94,690.12 151.73,690.05 152.51,689.98 153.29,689.91 154.07,689.85 154.86,689.78 155.64,689.72 156.42,689.66 157.21,689.6 157.99,689.54 158.77,689.48 159.56,689.42 160.34,689.37 161.12,689.31 161.91,689.26 162.69,689.21 163.47,689.16 164.25,689.11 165.04,689.07 165.82,689.02 166.6,688.98 167.39,688.93 168.17,688.89 168.95,688.85 169.74,688.81 170.52,688.77 171.3,688.73 172.08,688.69 172.87,688.65 173.65,688.62 173.88,688.62 174.28,691.19 174.67,693.57 175.06,695.77 175.45,697.82 175.84,699.72 176.23,701.48 176.63,703.13 177.02,704.66 177.41,706.1 177.8,707.44 178.19,708.7 178.58,709.88 178.97,710.99 179.37,712.04 179.76,713.03 180.15,713.96 180.54,714.85 180.93,715.69 181.32,716.49 181.71,717.25 182.89,719.32 184.06,721.15 185.24,722.77 186.41,724.22 187.59,725.55 188.76,726.76 189.94,727.87 191.11,728.91 192.29,729.87 193.46,730.77 194.63,731.61 195.81,732.41 196.98,733.16 198.16,733.86 199.33,734.53 200.51,735.16 201.68,735.76 202.86,736.32 204.03,736.86 205.2,737.37 206.38,737.85 207.55,738.31 208.73,738.74 209.9,739.15 211.08,739.55 212.25,739.92 213.43,740.27 214.6,740.61 215.78,740.93 216.95,741.23 218.12,741.52 219.3,741.8 220.47,742.06 221.65,742.31 222.82,742.54 224,742.77 225.17,742.99 226.35,743.19 227.52,743.38 228.69,743.57 229.87,743.75 231.04,743.92 232.22,744.08 233.39,744.23 234.57,744.38 235.74,744.52 236.92,744.65 238.09,744.78 239.27,744.9 240.44,745.02 241.61,745.13 242.79,745.24 243.96,745.34 245.14,745.44 246.31,745.53 247.49,745.62 248.66,745.71 249.84,745.79 251.01,745.87 252.18,745.95 253.36,746.02 254.53,746.09 255.71,746.16 256.88,746.22 258.06,746.29 259.23,746.35 260.41,746.4 261.58,746.46 262.76,746.52 263.93,746.57 265.1,746.62 266.28,746.67 267.45,746.72 268.63,746.76 269.8,746.81 270.98,746.85 272.15,746.89 273.33,746.93 274.5,746.97 275.67,747.01 276.85,747.05 278.02,747.08 279.2,747.12 280.37,747.15 281.55,747.19 282.72,747.22 283.9,747.25 285.07,747.28 286.25,747.32 287.42,747.35 288.59,747.38 289.77,747.4 290.94,747.43" fill="none" stroke="#a02cc8" stroke-width="0.75"/>
<polyline points="71.86,755.5 75.78,755.5 79.69,755.5 83.61,755.5 87.52,755.5 91.44,755.5 95.35,755.5 96.13,752.56 96.92,749.85 97.7,747.35 98.48,745.05 99.27,742.94 100.05,740.99 100.83,739.19 101.61,737.52 102.4,735.99 103.18,734.58 103.96,733.27 104.75,732.06 105.53,730.94 106.31,729.91 107.09,728.95 107.88,728.06 108.66,727.24 109.44,726.48 110.23,725.77 111.01,725.11 111.79,724.5 112.58,723.93 113.36,723.4 114.14,722.91 114.93,722.45 115.71,722.02 116.49,721.62 117.27,721.24 118.06,720.89 118.84,720.56 119.62,720.25 120.41,719.96 121.19,719.69 121.97,719.43 122.76,719.19 123.54,718.97 124.32,718.75 125.1,718.55 125.89,718.36 126.67,718.18 127.45,718.01 128.24,717.84 129.02,717.69 129.8,717.54 130.59,717.41 131.37,717.27 132.15,717.15 132.93,717.03 133.72,716.91 134.5,716.8 135.28,716.7 136.07,716.6 136.85,716.5 137.63,716.41 138.42,716.32 139.2,716.23 139.98,716.15 140.76,716.07 141.55,716 142.33,715.92 143.11,715.85 143.9,715.78 144.68,715.72 145.46,715.66 146.25,715.59 147.03,715.54 147.81,715.48 148.59,715.42 149.38,715.37 150.16,715.32 150.94,715.27 151.73,715.22 152.51,715.17 153.29,715.13 154.07,715.08 154.86,715.04 155.64,715 156.42,714.95 157.21,714.91 157.99,714.88 158.77,714.84 159.56,714.8 160.34,714.77 161.12,714.73 161.91,714.7 162.69,714.67 163.47,714.63 164.25,714.6 165.04,714.57 165.82,714.54 166.6,714.52 167.39,714.49 168.17,714.46 168.95,714.43 169.74,714.41 170.52,714.38 171.3,714.36 172.08,714.33 172.87,714.31 173.65,714.29 173.88,714.29 174.28,715.87 174.67,717.34 175.06,718.7 175.45,719.96 175.84,721.13 176.23,722.22 176.63,723.23 177.02,724.18 177.41,725.06 177.8,725.89 178.19,726.66 178.58,727.39 178.97,728.08 179.37,728.72 179.76,729.33 180.15,729.91 180.54,730.45 180.93,730.97 181.32,731.46 181.71,731.93 182.89,733.21 184.06,734.33 185.24,735.33 186.41,736.23 187.59,737.04 188.76,737.79 189.94,738.48 191.11,739.11 192.29,739.71 193.46,740.26 194.63,740.78 195.81,741.27 196.98,741.73 198.16,742.17 199.33,742.58 200.51,742.97 201.68,743.33 202.86,743.68 204.03,744.01 205.2,744.33 206.38,744.62 207.55,744.91 208.73,745.17 209.9,745.43 211.08,745.67 212.25,745.9 213.43,746.12 214.6,746.32 215.78,746.52 216.95,746.71 218.12,746.89 219.3,747.06 220.47,747.22 221.65,747.37 222.82,747.52 224,747.66 225.17,747.79 226.35,747.91 227.52,748.04 228.69,748.15 229.87,748.26 231.04,748.36 232.22,748.46 233.39,748.56 234.57,748.65 235.74,748.73 236.92,748.82 238.09,748.89 239.27,748.97 240.44,749.04 241.61,749.11 242.79,749.18 243.96,749.24 245.14,749.3 246.31,749.36 247.49,749.41 248.66,749.47 249.84,749.52 251.01,749.57 252.18,749.61 253.36,749.66 254.53,749.7 255.71,749.74 256.88,749.78 258.06,749.82 259.23,749.86 260.41,749.9 261.58,749.93 262.76,749.96 263.93,750 265.1,750.03 266.28,750.06 267.45,750.09 268.63,750.12 269.8,750.14 270.98,750.17 272.15,750.2 273.33,750.22 274.5,750.25 275.67,750.27 276.85,750.29 278.02,750.31 279.2,750.34 280.37,750.36 281.55,750.38 282.72,750.4 283.9,750.42 285.07,750.44 286.25,750.46 287.42,750.48 288.59,750.49 289.77,750.51 290.94,750.53" fill="none" stroke="#e2a82a" stroke-width="0.75"/>
<polyline points="71.86,755.5 75.78,755.5 79.69,755.5 83.61,755.5 87.52,755.5 91.44,755.5 95.35,755.5 96.13,754.08 96.92,752.74 97.7,751.5 98.48,750.33 99.27,749.24 100.05,748.21 100.83,747.26 101.61,746.36 102.4,745.52 103.18,744.73 103.96,743.99 104.75,743.3 105.53,742.65 106.31,742.04 107.09,741.46 107.88,740.93 108.66,740.42 109.44,739.95 110.23,739.5 111.01,739.08 111.79,738.69 112.58,738.32 113.36,737.97 114.14,737.64 114.93,737.33 115.71,737.03 116.49,736.76 117.27,736.5 118.06,736.25 118.84,736.02 119.62,735.8 120.41,735.6 121.19,735.4 121.97,735.22 122.76,735.04 123.54,734.88 124.32,734.72 125.1,734.57 125.89,734.43 126.67,734.29 127.45,734.17 128.24,734.05 129.02,733.93 129.8,733.82 130.59,733.72 131.37,733.62 132.15,733.52 132.93,733.43 133.72,733.35 134.5,733.27 135.28,733.19 136.07,733.11 136.85,733.04 137.63,732.97 138.42,732.91 139.2,732.84 139.98,732.78 140.76,732.73 141.55,732.67 142.33,732.62 143.11,732.57 143.9,732.52 144.68,732.47 145.46,732.43 146.25,732.38 147.03,732.34 147.81,732.3 148.59,732.26 149.38,732.23 150.16,732.19 150.94,732.16 151.73,732.12 152.51,732.09 153.29,732.06 154.07,732.03 154.86,732 155.64,731.97 156.42,731.94 157.21,731.92 157.99,731.89 158.77,731.87 159.56,731.84 160.34,731.82 161.12,731.8 161.91,731.78 162.69,731.75 163.47,731.73 164.25,731.71 165.04,731.7 165.82,731.68 166.6,731.66 167.39,731.64 168.17,731.62 168.95,731.61 169.74,731.59 170.52,731.57 171.3,731.56 172.08,731.54 172.87,731.53 173.65,731.52 173.88,731.52 174.28,732.44 174.67,733.29 175.06,734.08 175.45,734.82 175.84,735.5 176.23,736.13 176.63,736.72 177.02,737.27 177.41,737.78 177.8,738.27 178.19,738.72 178.58,739.14 178.97,739.54 179.37,739.92 179.76,740.27 180.15,740.61 180.54,740.92 180.93,741.22 181.32,741.51 181.71,741.78 182.89,742.53 184.06,743.18 185.24,743.76 186.41,744.28 187.59,744.76 188.76,745.19 189.94,745.59 191.11,745.96 192.29,746.31 193.46,746.63 194.63,746.93 195.81,747.22 196.98,747.49 198.16,747.74 199.33,747.98 200.51,748.21 201.68,748.42 202.86,748.62 204.03,748.82 205.2,749 206.38,749.17 207.55,749.33 208.73,749.49 209.9,749.64 211.08,749.78 212.25,749.91 213.43,750.04 214.6,750.16 215.78,750.28 216.95,750.38 218.12,750.49 219.3,750.59 220.47,750.68 221.65,750.77 222.82,750.85 224,750.94 225.17,751.01 226.35,751.09 227.52,751.16 228.69,751.22 229.87,751.29 231.04,751.35 232.22,751.4 233.39,751.46 234.57,751.51 235.74,751.56 236.92,751.61 238.09,751.66 239.27,751.7 240.44,751.74 241.61,751.78 242.79,751.82 243.96,751.86 245.14,751.89 246.31,751.93 247.49,751.96 248.66,751.99 249.84,752.02 251.01,752.05 252.18,752.07 253.36,752.1 254.53,752.13 255.71,752.15 256.88,752.17 258.06,752.2 259.23,752.22 260.41,752.24 261.58,752.26 262.76,752.28 263.93,752.3 265.1,752.32 266.28,752.33 267.45,752.35 268.63,752.37 269.8,752.38 270.98,752.4 272.15,752.41 273.33,752.43 274.5,752.44 275.67,752.46 276.85,752.47 278.02,752.48 279.2,752.49 280.37,752.51 281.55,752.52 282.72,752.53 283.9,752.54 285.07,752.55 286.25,752.57 287.42,752.58 288.59,752.59 289.77,752.6 290.94,752.61" fill="none" stroke="#28d0d0" stroke-width="0.75"/>
<polyline points="71.86,755.5 75.78,755.5 79.69,755.5 83.61,755.5 87.52,755.5 91.44,755.5 95.35,755.5 96.13,754.8 96.92,754.14 97.7,753.52 98.48,752.93 99.27,752.38 100.05,751.86 100.83,751.37 101.61,750.9 102.4,750.46 103.18,750.05 103.96,749.65 104.75,749.28 105.53,748.94 106.31,748.6 107.09,748.29 107.88,748 108.66,747.72 109.44,747.45 110.23,747.2 111.01,746.97 111.79,746.74 112.58,746.53 113.36,746.33 114.14,746.14 114.93,745.96 115.71,745.79 116.49,745.63 117.27,745.47 118.06,745.33 118.84,745.19 119.62,745.06 120.41,744.93 121.19,744.82 121.97,744.7 122.76,744.6 123.54,744.5 124.32,744.4 125.1,744.31 125.89,744.22 126.67,744.14 127.45,744.06 128.24,743.98 129.02,743.91 129.8,743.84 130.59,743.77 131.37,743.71 132.15,743.65 132.93,743.6 133.72,743.54 134.5,743.49 135.28,743.44 136.07,743.39 136.85,743.35 137.63,743.3 138.42,743.26 139.2,743.22 139.98,743.18 140.76,743.15 141.55,743.11 142.33,743.08 143.11,743.05 143.9,743.01 144.68,742.99 145.46,742.96 146.25,742.93 147.03,742.9 147.81,742.88 148.59,742.85 149.38,742.83 150.16,742.81 150.94,742.78 151.73,742.76 152.51,742.74 153.29,742.72 154.07,742.71 154.86,742.69 155.64,742.67 156.42,742.65 157.21,742.64 157.99,742.62 158.77,742.61 159.56,742.59 160.34,742.58 161.12,742.56 161.91,742.55 162.69,742.54 163.47,742.52 164.25,742.51 165.04,742.5 165.82,742.49 166.6,742.48 167.39,742.47 168.17,742.46 168.95,742.45 169.74,742.44 170.52,742.43 171.3,742.42 172.08,742.41 172.87,742.4 173.65,742.39 173.88,742.39 174.28,742.9 174.67,743.36 175.06,743.8 175.45,744.2 175.84,744.57 176.23,744.91 176.63,745.24 177.02,745.54 177.41,745.82 177.8,746.08 178.19,746.33 178.58,746.56 178.97,746.78 179.37,746.98 179.76,747.18 180.15,747.36 180.54,747.53 180.93,747.7 181.32,747.85 181.71,748 182.89,748.41 184.06,748.77 185.24,749.09 186.41,749.37 187.59,749.63 188.76,749.87 189.94,750.09 191.11,750.29 192.29,750.48 193.46,750.65 194.63,750.82 195.81,750.97 196.98,751.12 198.16,751.26 199.33,751.39 200.51,751.51 201.68,751.63 202.86,751.74 204.03,751.85 205.2,751.95 206.38,752.04 207.55,752.13 208.73,752.22 209.9,752.3 211.08,752.37 212.25,752.45 213.43,752.52 214.6,752.58 215.78,752.64 216.95,752.7 218.12,752.76 219.3,752.81 220.47,752.87 221.65,752.91 222.82,752.96 224,753.01 225.17,753.05 226.35,753.09 227.52,753.13 228.69,753.16 229.87,753.2 231.04,753.23 232.22,753.26 233.39,753.29 234.57,753.32 235.74,753.35 236.92,753.37 238.09,753.4 239.27,753.42 240.44,753.45 241.61,753.47 242.79,753.49 243.96,753.51 245.14,753.53 246.31,753.55 247.49,753.56 248.66,753.58 249.84,753.6 251.01,753.61 252.18,753.63 253.36,753.64 254.53,753.66 255.71,753.67 256.88,753.68 258.06,753.69 259.23,753.71 260.41,753.72 261.58,753.73 262.76,753.74 263.93,753.75 265.1,753.76 266.28,753.77 267.45,753.78 268.63,753.79 269.8,753.8 270.98,753.8 272.15,753.81 273.33,753.82 274.5,753.83 275.67,753.84 276.85,753.84 278.02,753.85 279.2,753.86 280.37,753.86 281.55,753.87 282.72,753.88 283.9,753.88 285.07,753.89 286.25,753.9 287.42,753.9 288.59,753.91 289.77,753.91 290.94,753.92" fill="none" stroke="#e028e0" stroke-width="0.75"/>
<polyline points="71.86,755.5 75.78,755.5 79.69,755.5 83.61,755.5 87.52,755.5 91.44,755.5 95.35,755.5 96.13,755.18 96.92,754.87 97.7,754.58 98.48,754.31 99.27,754.05 100.05,753.8 100.83,753.57 101.61,753.35 102.4,753.14 103.18,752.94 103.96,752.75 104.75,752.58 105.53,752.41 106.31,752.25 107.09,752.09 107.88,751.95 108.66,751.81 109.44,751.68 110.23,751.56 111.01,751.44 111.79,751.33 112.58,751.23 113.36,751.13 114.14,751.03 114.93,750.94 115.71,750.85 116.49,750.77 117.27,750.69 118.06,750.62 118.84,750.55 119.62,750.48 120.41,750.42 121.19,750.36 121.97,750.3 122.76,750.24 123.54,750.19 124.32,750.14 125.1,750.09 125.89,750.05 126.67,750 127.45,749.96 128.24,749.92 129.02,749.89 129.8,749.85 130.59,749.82 131.37,749.78 132.15,749.75 132.93,749.72 133.72,749.69 134.5,749.66 135.28,749.64 136.07,749.61 136.85,749.59 137.63,749.57 138.42,749.54 139.2,749.52 139.98,749.5 140.76,749.48 141.55,749.46 142.33,749.45 143.11,749.43 143.9,749.41 144.68,749.4 145.46,749.38 146.25,749.37 147.03,749.35 147.81,749.34 148.59,749.32 149.38,749.31 150.16,749.3 150.94,749.29 151.73,749.28 152.51,749.27 153.29,749.26 154.07,749.25 154.86,749.24 155.64,749.23 156.42,749.22 157.21,749.21 157.99,749.2 158.77,749.19 159.56,749.19 160.34,749.18 161.12,749.17 161.91,749.16 162.69,749.16 163.47,749.15 164.25,749.14 165.04,749.14 165.82,749.13 166.6,749.13 167.39,749.12 168.17,749.12 168.95,749.11 169.74,749.1 170.52,749.1 171.3,749.1 172.08,749.09 172.87,749.09 173.65,749.08 173.88,749.08 174.28,749.33 174.67,749.56 175.06,749.77 175.45,749.96 175.84,750.15 176.23,750.32 176.63,750.47 177.02,750.62 177.41,750.76 177.8,750.89 178.19,751.01 178.58,751.12 178.97,751.23 179.37,751.33 179.76,751.42 180.15,751.51 180.54,751.6 180.93,751.68 181.32,751.76 181.71,751.83 182.89,752.03 184.06,752.2 185.24,752.36 186.41,752.5 187.59,752.63 188.76,752.74 189.94,752.85 191.11,752.95 192.29,753.04 193.46,753.13 194.63,753.21 195.81,753.28 196.98,753.36 198.16,753.42 199.33,753.49 200.51,753.55 201.68,753.61 202.86,753.66 204.03,753.71 205.2,753.76 206.38,753.81 207.55,753.85 208.73,753.89 209.9,753.93 211.08,753.97 212.25,754 213.43,754.04 214.6,754.07 215.78,754.1 216.95,754.13 218.12,754.16 219.3,754.19 220.47,754.21 221.65,754.23 222.82,754.26 224,754.28 225.17,754.3 226.35,754.32 227.52,754.34 228.69,754.36 229.87,754.37 231.04,754.39 232.22,754.4 233.39,754.42 234.57,754.43 235.74,754.45 236.92,754.46 238.09,754.47 239.27,754.48 240.44,754.49 241.61,754.5 242.79,754.52 243.96,754.52 245.14,754.53 246.31,754.54 247.49,754.55 248.66,754.56 249.84,754.57 251.01,754.58 252.18,754.58 253.36,754.59 254.53,754.6 255.71,754.6 256.88,754.61 258.06,754.62 259.23,754.62 260.41,754.63 261.58,754.63 262.76,754.64 263.93,754.64 265.1,754.65 266.28,754.65 267.45,754.66 268.63,754.66 269.8,754.67 270.98,754.67 272.15,754.67 273.33,754.68 274.5,754.68 275.67,754.69 276.85,754.69 278.02,754.69 279.2,754.7 280.37,754.7 281.55,754.7 282.72,754.71 283.9,754.71 285.07,754.71 286.25,754.71 287.42,754.72 288.59,754.72 289.77,754.72 290.94,754.73" fill="none" stroke="#2828e8" stroke-width="0.75"/>
<polyline points="71.86,755.5 75.78,755.5 79.69,755.5 83.61,755.5 87.52,755.5 91.44,755.5 95.35,755.5 96.13,755.34 96.92,755.19 97.7,755.04 98.48,754.91 99.27,754.78 100.05,754.65 100.83,754.54 101.61,754.42 102.4,754.32 103.18,754.21 103.96,754.12 104.75,754.03 105.53,753.94 106.31,753.86 107.09,753.78 107.88,753.7 108.66,753.63 109.44,753.56 110.23,753.5 111.01,753.43 111.79,753.37 112.58,753.32 113.36,753.26 114.14,753.21 114.93,753.16 115.71,753.12 116.49,753.07 117.27,753.03 118.06,752.99 118.84,752.95 119.62,752.92 120.41,752.88 121.19,752.85 121.97,752.81 122.76,752.78 123.54,752.75 124.32,752.73 125.1,752.7 125.89,752.67 126.67,752.65 127.45,752.63 128.24,752.6 129.02,752.58 129.8,752.56 130.59,752.54 131.37,752.52 132.15,752.51 132.93,752.49 133.72,752.47 134.5,752.46 135.28,752.44 136.07,752.43 136.85,752.41 137.63,752.4 138.42,752.39 139.2,752.38 139.98,752.36 140.76,752.35 141.55,752.34 142.33,752.33 143.11,752.32 143.9,752.31 144.68,752.3 145.46,752.29 146.25,752.29 147.03,752.28 147.81,752.27 148.59,752.26 149.38,752.25 150.16,752.25 150.94,752.24 151.73,752.23 152.51,752.23 153.29,752.22 154.07,752.22 154.86,752.21 155.64,752.21 156.42,752.2 157.21,752.2 157.99,752.19 158.77,752.19 159.56,752.18 160.34,752.18 161.12,752.17 161.91,752.17 162.69,752.16 163.47,752.16 164.25,752.16 165.04,752.15 165.82,752.15 166.6,752.15 167.39,752.14 168.17,752.14 168.95,752.14 169.74,752.14 170.52,752.13 171.3,752.13 172.08,752.13 172.87,752.12 173.65,752.12 173.88,752.12 174.28,752.25 174.67,752.37 175.06,752.48 175.45,752.59 175.84,752.68 176.23,752.77 176.63,752.85 177.02,752.93 177.41,753 177.8,753.07 178.19,753.14 178.58,753.2 178.97,753.25 179.37,753.3 179.76,753.35 180.15,753.4 180.54,753.45 180.93,753.49 181.32,753.53 181.71,753.57 182.89,753.67 184.06,753.76 185.24,753.85 186.41,753.92 187.59,753.99 188.76,754.05 189.94,754.1 191.11,754.16 192.29,754.21 193.46,754.25 194.63,754.29 195.81,754.33 196.98,754.37 198.16,754.41 199.33,754.44 200.51,754.47 201.68,754.5 202.86,754.53 204.03,754.56 205.2,754.58 206.38,754.61 207.55,754.63 208.73,754.65 209.9,754.67 211.08,754.69 212.25,754.71 213.43,754.73 214.6,754.75 215.78,754.76 216.95,754.78 218.12,754.79 219.3,754.81 220.47,754.82 221.65,754.83 222.82,754.85 224,754.86 225.17,754.87 226.35,754.88 227.52,754.89 228.69,754.9 229.87,754.91 231.04,754.91 232.22,754.92 233.39,754.93 234.57,754.94 235.74,754.95 236.92,754.95 238.09,754.96 239.27,754.96 240.44,754.97 241.61,754.98 242.79,754.98 243.96,754.99 245.14,754.99 246.31,755 247.49,755 248.66,755.01 249.84,755.01 251.01,755.01 252.18,755.02 253.36,755.02 254.53,755.02 255.71,755.03 256.88,755.03 258.06,755.03 259.23,755.04 260.41,755.04 261.58,755.04 262.76,755.05 263.93,755.05 265.1,755.05 266.28,755.05 267.45,755.06 268.63,755.06 269.8,755.06 270.98,755.06 272.15,755.07 273.33,755.07 274.5,755.07 275.67,755.07 276.85,755.07 278.02,755.07 279.2,755.08 280.37,755.08 281.55,755.08 282.72,755.08 283.9,755.08 285.07,755.09 286.25,755.09 287.42,755.09 288.59,755.09 289.77,755.09 290.94,755.09" fill="none" stroke="#1f7a2a" stroke-width="0.75"/>
<polyline points="71.86,755.5 75.78,755.5 79.69,755.5 83.61,755.5 87.52,755.5 91.44,755.5 95.35,755.5 96.13,755.44 96.92,755.38 97.7,755.33 98.48,755.28 99.27,755.23 100.05,755.18 100.83,755.13 101.61,755.09 102.4,755.05 103.18,755.01 103.96,754.97 104.75,754.94 105.53,754.9 106.31,754.87 107.09,754.84 107.88,754.81 108.66,754.78 109.44,754.75 110.23,754.73 111.01,754.7 111.79,754.68 112.58,754.66 113.36,754.63 114.14,754.61 114.93,754.59 115.71,754.57 116.49,754.56 117.27,754.54 118.06,754.52 118.84,754.51 119.62,754.49 120.41,754.48 121.19,754.46 121.97,754.45 122.76,754.44 123.54,754.42 124.32,754.41 125.1,754.4 125.89,754.39 126.67,754.38 127.45,754.37 128.24,754.36 129.02,754.35 129.8,754.34 130.59,754.33 131.37,754.33 132.15,754.32 132.93,754.31 133.72,754.3 134.5,754.3 135.28,754.29 136.07,754.28 136.85,754.28 137.63,754.27 138.42,754.27 139.2,754.26 139.98,754.26 140.76,754.25 141.55,754.25 142.33,754.24 143.11,754.24 143.9,754.23 144.68,754.23 145.46,754.23 146.25,754.22 147.03,754.22 147.81,754.21 148.59,754.21 149.38,754.21 150.16,754.2 150.94,754.2 151.73,754.2 152.51,754.2 153.29,754.19 154.07,754.19 154.86,754.19 155.64,754.19 156.42,754.18 157.21,754.18 157.99,754.18 158.77,754.18 159.56,754.18 160.34,754.17 161.12,754.17 161.91,754.17 162.69,754.17 163.47,754.17 164.25,754.16 165.04,754.16 165.82,754.16 166.6,754.16 167.39,754.16 168.17,754.16 168.95,754.16 169.74,754.15 170.52,754.15 171.3,754.15 172.08,754.15 172.87,754.15 173.65,754.15 173.88,754.15 174.28,754.2 174.67,754.25 175.06,754.29 175.45,754.33 175.84,754.37 176.23,754.41 176.63,754.44 177.02,754.47 177.41,754.5 177.8,754.53 178.19,754.55 178.58,754.58 178.97,754.6 179.37,754.62 179.76,754.64 180.15,754.66 180.54,754.68 180.93,754.7 181.32,754.71 181.71,754.73 182.89,754.77 184.06,754.81 185.24,754.84 186.41,754.87 187.59,754.89 188.76,754.92 189.94,754.94 191.11,754.96 192.29,754.98 193.46,755 194.63,755.02 195.81,755.03 196.98,755.05 198.16,755.06 199.33,755.08 200.51,755.09 201.68,755.1 202.86,755.11 204.03,755.12 205.2,755.13 206.38,755.14 207.55,755.15 208.73,755.16 209.9,755.17 211.08,755.18 212.25,755.19 213.43,755.19 214.6,755.2 215.78,755.21 216.95,755.21 218.12,755.22 219.3,755.22 220.47,755.23 221.65,755.23 222.82,755.24 224,755.24 225.17,755.25 226.35,755.25 227.52,755.26 228.69,755.26 229.87,755.26 231.04,755.27 232.22,755.27 233.39,755.27 234.57,755.28 235.74,755.28 236.92,755.28 238.09,755.28 239.27,755.29 240.44,755.29 241.61,755.29 242.79,755.29 243.96,755.29 245.14,755.3 246.31,755.3 247.49,755.3 248.66,755.3 249.84,755.3 251.01,755.31 252.18,755.31 253.36,755.31 254.53,755.31 255.71,755.31 256.88,755.31 258.06,755.31 259.23,755.32 260.41,755.32 261.58,755.32 262.76,755.32 263.93,755.32 265.1,755.32 266.28,755.32 267.45,755.32 268.63,755.32 269.8,755.32 270.98,755.33 272.15,755.33 273.33,755.33 274.5,755.33 275.67,755.33 276.85,755.33 278.02,755.33 279.2,755.33 280.37,755.33 281.55,755.33 282.72,755.33 283.9,755.33 285.07,755.33 286.25,755.33 287.42,755.34 288.59,755.34 289.77,755.34 290.94,755.34" fill="none" stroke="#a01c1c" stroke-width="0.75"/>
<polyline points="95.35,755.5 96.13,739.62 96.92,725.6 97.7,713.21 98.48,702.27 99.27,692.6 100.05,684.06 100.83,676.51 101.61,669.85 102.4,663.96 103.18,658.76 103.96,654.17 104.75,650.11 105.53,646.52 106.31,643.36 107.09,640.56 107.88,638.09 108.66,635.9 109.44,633.98 110.23,632.27 111.01,630.77 111.79,629.44 112.58,628.26 113.36,627.22 114.14,626.31 114.93,625.5 115.71,624.78 116.49,624.15 117.27,623.59 118.06,623.1 118.84,622.67 119.62,622.28 120.41,621.94 121.19,621.64 121.97,621.38 122.76,621.14 123.54,620.93 124.32,620.75 125.1,620.59 125.89,620.45 126.67,620.32 127.45,620.21 128.24,620.11 129.02,620.02 129.8,619.95 130.59,619.88 131.37,619.82 132.15,619.77 132.93,619.72 133.72,619.68 134.5,619.64 135.28,619.61 136.07,619.58 136.85,619.56 137.63,619.53 138.42,619.51 139.2,619.5 139.98,619.48 140.76,619.47 141.55,619.46 142.33,619.45 143.11,619.44 143.9,619.43 144.68,619.42 145.46,619.41 146.25,619.41 147.03,619.4 147.81,619.4 148.59,619.4 149.38,619.39 150.16,619.39 150.94,619.39 151.73,619.38 152.51,619.38 153.29,619.38 154.07,619.38 154.86,619.38 155.64,619.38 156.42,619.37 157.21,619.37 157.99,619.37 158.77,619.37 159.56,619.37 160.34,619.37 161.12,619.37 161.91,619.37 162.69,619.37 163.47,619.37 164.25,619.37 165.04,619.37 165.82,619.37 166.6,619.37 167.39,619.37 168.17,619.37 168.95,619.37 169.74,619.37 170.52,619.37 171.3,619.37 172.08,619.37 172.87,619.37 173.65,619.37 173.65,679.27 174.43,681.9 175.22,684.44 176,686.88 176.78,689.24 177.56,691.51 178.35,693.7 179.13,695.81 179.91,697.84 180.7,699.79 181.48,701.68 182.26,703.5 183.05,705.25 183.83,706.94 184.61,708.57 185.39,710.14 186.18,711.65 186.96,713.11 187.74,714.51 188.53,715.87 189.31,717.17 190.09,718.43 190.88,719.64 191.66,720.81 192.44,721.94 193.23,723.03 194.01,724.08 194.79,725.09 195.57,726.06 196.36,727 197.14,727.91 197.92,728.78 198.71,729.63 199.49,730.44 200.27,731.22 201.06,731.98 201.84,732.71 202.62,733.42 203.4,734.1 204.19,734.75 204.97,735.38 205.75,735.99 206.54,736.58 207.32,737.15 208.1,737.7 208.88,738.23 209.67,738.74 210.45,739.23 211.23,739.71 212.02,740.17 212.8,740.61 213.58,741.04 214.37,741.46 215.15,741.86 215.93,742.24 216.72,742.62 217.5,742.98 218.28,743.32 219.06,743.66 219.85,743.98 220.63,744.3 221.41,744.6 222.2,744.89 222.98,745.18 223.76,745.45 224.55,745.72 225.33,745.97 226.11,746.22 226.89,746.46 227.68,746.69 228.46,746.92 229.24,747.13 230.03,747.34 230.81,747.54 231.59,747.74 232.38,747.93 233.16,748.11 233.94,748.29 234.72,748.46 235.51,748.63 236.29,748.79 237.07,748.95 237.86,749.1 238.64,749.25 239.42,749.39 240.2,749.53 240.99,749.66 241.77,749.79 242.55,749.92 243.34,750.04 244.12,750.16 244.9,750.27 245.69,750.38 246.47,750.49 247.25,750.59 248.04,750.7 248.82,750.79 249.6,750.89 250.38,750.98 251.17,751.07 251.95,751.16 252.73,751.25 253.52,751.33 254.3,751.41 255.08,751.49 255.87,751.56 256.65,751.64 257.43,751.71 258.21,751.78 259,751.85 259.78,751.91 260.56,751.98 261.35,752.04 262.13,752.1 262.91,752.16 263.69,752.22 264.48,752.27 265.26,752.33 266.04,752.38 266.83,752.44 267.61,752.49 268.39,752.54 269.18,752.58 269.96,752.63 270.74,752.68 271.53,752.72 272.31,752.77 273.09,752.81 273.87,752.85 274.66,752.89 275.44,752.93 276.22,752.97 277.01,753.01 277.79,753.05 278.57,753.08 279.36,753.12 280.14,753.15 280.92,753.19 281.7,753.22 282.49,753.25 283.27,753.28 284.05,753.32 284.84,753.35 285.62,753.38 286.4,753.41 287.19,753.43 287.97,753.46 288.75,753.49 289.53,753.52 290.32,753.54 291.1,753.57" fill="none" stroke="#111" stroke-width="0.75"/>
<polyline points="95.35,755.5 96.13,747.28 96.92,739.72 97.7,732.77 98.48,726.38 99.27,720.51 100.05,715.1 100.83,710.14 101.61,705.57 102.4,701.37 103.18,697.51 103.96,693.96 104.75,690.7 105.53,687.7 106.31,684.94 107.09,682.41 107.88,680.07 108.66,677.93 109.44,675.96 110.23,674.15 111.01,672.48 111.79,670.95 112.58,669.54 113.36,668.24 114.14,667.05 114.93,665.96 115.71,664.95 116.49,664.02 117.27,663.17 118.06,662.39 118.84,661.67 119.62,661.01 120.41,660.4 121.19,659.84 121.97,659.33 122.76,658.86 123.54,658.42 124.32,658.02 125.1,657.65 125.89,657.32 126.67,657.01 127.45,656.72 128.24,656.46 129.02,656.22 129.8,655.99 130.59,655.79 131.37,655.6 132.15,655.43 132.93,655.27 133.72,655.13 134.5,654.99 135.28,654.87 136.07,654.75 136.85,654.65 137.63,654.55 138.42,654.47 139.2,654.39 139.98,654.31 140.76,654.24 141.55,654.18 142.33,654.12 143.11,654.07 143.9,654.02 144.68,653.97 145.46,653.93 146.25,653.9 147.03,653.86 147.81,653.83 148.59,653.8 149.38,653.77 150.16,653.75 150.94,653.72 151.73,653.7 152.51,653.68 153.29,653.67 154.07,653.65 154.86,653.63 155.64,653.62 156.42,653.61 157.21,653.6 157.99,653.58 158.77,653.57 159.56,653.57 160.34,653.56 161.12,653.55 161.91,653.54 162.69,653.54 163.47,653.53 164.25,653.52 165.04,653.52 165.82,653.51 166.6,653.51 167.39,653.51 168.17,653.5 168.95,653.5 169.74,653.5 170.52,653.49 171.3,653.49 172.08,653.49 172.87,653.49 173.65,653.48 173.65,655.52 174.43,658.98 175.22,662.31 176,665.51 176.78,668.6 177.56,671.58 178.35,674.45 179.13,677.22 179.91,679.88 180.7,682.45 181.48,684.92 182.26,687.31 183.05,689.6 183.83,691.82 184.61,693.95 185.39,696.01 186.18,697.99 186.96,699.9 187.74,701.75 188.53,703.52 189.31,705.24 190.09,706.89 190.88,708.48 191.66,710.01 192.44,711.49 193.23,712.92 194.01,714.29 194.79,715.62 195.57,716.9 196.36,718.13 197.14,719.32 197.92,720.46 198.71,721.57 199.49,722.64 200.27,723.67 201.06,724.66 201.84,725.62 202.62,726.54 203.4,727.43 204.19,728.29 204.97,729.12 205.75,729.92 206.54,730.69 207.32,731.44 208.1,732.16 208.88,732.85 209.67,733.52 210.45,734.17 211.23,734.79 212.02,735.4 212.8,735.98 213.58,736.54 214.37,737.08 215.15,737.61 215.93,738.11 216.72,738.6 217.5,739.08 218.28,739.53 219.06,739.97 219.85,740.4 220.63,740.81 221.41,741.21 222.2,741.59 222.98,741.96 223.76,742.32 224.55,742.67 225.33,743.01 226.11,743.33 226.89,743.64 227.68,743.95 228.46,744.24 229.24,744.53 230.03,744.8 230.81,745.07 231.59,745.32 232.38,745.57 233.16,745.81 233.94,746.05 234.72,746.27 235.51,746.49 236.29,746.7 237.07,746.91 237.86,747.11 238.64,747.3 239.42,747.49 240.2,747.67 240.99,747.84 241.77,748.01 242.55,748.18 243.34,748.34 244.12,748.49 244.9,748.64 245.69,748.79 246.47,748.93 247.25,749.07 248.04,749.2 248.82,749.33 249.6,749.45 250.38,749.58 251.17,749.69 251.95,749.81 252.73,749.92 253.52,750.03 254.3,750.13 255.08,750.24 255.87,750.34 256.65,750.43 257.43,750.53 258.21,750.62 259,750.71 259.78,750.8 260.56,750.88 261.35,750.96 262.13,751.04 262.91,751.12 263.69,751.2 264.48,751.27 265.26,751.34 266.04,751.41 266.83,751.48 267.61,751.55 268.39,751.61 269.18,751.68 269.96,751.74 270.74,751.8 271.53,751.86 272.31,751.91 273.09,751.97 273.87,752.03 274.66,752.08 275.44,752.13 276.22,752.18 277.01,752.23 277.79,752.28 278.57,752.33 279.36,752.38 280.14,752.42 280.92,752.47 281.7,752.51 282.49,752.55 283.27,752.59 284.05,752.64 284.84,752.68 285.62,752.71 286.4,752.75 287.19,752.79 287.97,752.83 288.75,752.86 289.53,752.9 290.32,752.93 291.1,752.97" fill="none" stroke="#111" stroke-width="0.75"/>
<polyline points="95.35,755.5 96.13,751.62 96.92,747.96 97.7,744.49 98.48,741.21 99.27,738.11 100.05,735.18 100.83,732.41 101.61,729.79 102.4,727.31 103.18,724.97 103.96,722.75 104.75,720.66 105.53,718.68 106.31,716.81 107.09,715.04 107.88,713.36 108.66,711.78 109.44,710.28 110.23,708.87 111.01,707.53 111.79,706.27 112.58,705.07 113.36,703.94 114.14,702.87 114.93,701.86 115.71,700.9 116.49,700 117.27,699.14 118.06,698.33 118.84,697.57 119.62,696.85 120.41,696.16 121.19,695.52 121.97,694.91 122.76,694.33 123.54,693.78 124.32,693.27 125.1,692.78 125.89,692.32 126.67,691.88 127.45,691.47 128.24,691.08 129.02,690.71 129.8,690.36 130.59,690.03 131.37,689.72 132.15,689.42 132.93,689.14 133.72,688.88 134.5,688.63 135.28,688.39 136.07,688.17 136.85,687.96 137.63,687.76 138.42,687.57 139.2,687.39 139.98,687.22 140.76,687.07 141.55,686.91 142.33,686.77 143.11,686.64 143.9,686.51 144.68,686.39 145.46,686.28 146.25,686.17 147.03,686.07 147.81,685.97 148.59,685.88 149.38,685.79 150.16,685.71 150.94,685.63 151.73,685.56 152.51,685.49 153.29,685.43 154.07,685.37 154.86,685.31 155.64,685.25 156.42,685.2 157.21,685.15 157.99,685.11 158.77,685.06 159.56,685.02 160.34,684.98 161.12,684.94 161.91,684.91 162.69,684.88 163.47,684.84 164.25,684.81 165.04,684.79 165.82,684.76 166.6,684.73 167.39,684.71 168.17,684.69 168.95,684.67 169.74,684.65 170.52,684.63 171.3,684.61 172.08,684.59 172.87,684.58 173.65,684.56 173.65,690.24 174.43,692.49 175.22,694.66 176,696.76 176.78,698.78 177.56,700.72 178.35,702.59 179.13,704.4 179.91,706.14 180.7,707.81 181.48,709.43 182.26,710.98 183.05,712.48 183.83,713.93 184.61,715.32 185.39,716.67 186.18,717.96 186.96,719.21 187.74,720.41 188.53,721.57 189.31,722.69 190.09,723.76 190.88,724.8 191.66,725.81 192.44,726.77 193.23,727.7 194.01,728.6 194.79,729.46 195.57,730.3 196.36,731.1 197.14,731.88 197.92,732.63 198.71,733.35 199.49,734.05 200.27,734.72 201.06,735.37 201.84,735.99 202.62,736.59 203.4,737.18 204.19,737.74 204.97,738.28 205.75,738.8 206.54,739.31 207.32,739.79 208.1,740.26 208.88,740.72 209.67,741.15 210.45,741.58 211.23,741.98 212.02,742.38 212.8,742.76 213.58,743.12 214.37,743.48 215.15,743.82 215.93,744.15 216.72,744.47 217.5,744.78 218.28,745.08 219.06,745.36 219.85,745.64 220.63,745.91 221.41,746.17 222.2,746.42 222.98,746.66 223.76,746.9 224.55,747.12 225.33,747.34 226.11,747.56 226.89,747.76 227.68,747.96 228.46,748.15 229.24,748.34 230.03,748.52 230.81,748.69 231.59,748.86 232.38,749.02 233.16,749.18 233.94,749.33 234.72,749.48 235.51,749.62 236.29,749.76 237.07,749.89 237.86,750.02 238.64,750.15 239.42,750.27 240.2,750.39 240.99,750.5 241.77,750.61 242.55,750.72 243.34,750.82 244.12,750.93 244.9,751.02 245.69,751.12 246.47,751.21 247.25,751.3 248.04,751.39 248.82,751.47 249.6,751.55 250.38,751.63 251.17,751.71 251.95,751.79 252.73,751.86 253.52,751.93 254.3,752 255.08,752.06 255.87,752.13 256.65,752.19 257.43,752.25 258.21,752.31 259,752.37 259.78,752.43 260.56,752.48 261.35,752.54 262.13,752.59 262.91,752.64 263.69,752.69 264.48,752.74 265.26,752.79 266.04,752.83 266.83,752.88 267.61,752.92 268.39,752.96 269.18,753 269.96,753.04 270.74,753.08 271.53,753.12 272.31,753.16 273.09,753.2 273.87,753.23 274.66,753.27 275.44,753.3 276.22,753.33 277.01,753.37 277.79,753.4 278.57,753.43 279.36,753.46 280.14,753.49 280.92,753.52 281.7,753.55 282.49,753.58 283.27,753.6 284.05,753.63 284.84,753.66 285.62,753.68 286.4,753.71 287.19,753.73 287.97,753.76 288.75,753.78 289.53,753.8 290.32,753.83 291.1,753.85" fill="none" stroke="#111" stroke-width="0.75"/>
<polyline points="95.35,755.5 96.13,753.67 96.92,751.91 97.7,750.22 98.48,748.61 99.27,747.06 100.05,745.57 100.83,744.14 101.61,742.78 102.4,741.47 103.18,740.21 103.96,739.01 104.75,737.85 105.53,736.74 106.31,735.68 107.09,734.66 107.88,733.69 108.66,732.75 109.44,731.85 110.23,730.99 111.01,730.16 111.79,729.37 112.58,728.61 113.36,727.89 114.14,727.19 114.93,726.52 115.71,725.88 116.49,725.26 117.27,724.67 118.06,724.11 118.84,723.56 119.62,723.04 120.41,722.54 121.19,722.07 121.97,721.61 122.76,721.17 123.54,720.75 124.32,720.34 125.1,719.95 125.89,719.58 126.67,719.23 127.45,718.88 128.24,718.56 129.02,718.24 129.8,717.94 130.59,717.65 131.37,717.38 132.15,717.11 132.93,716.86 133.72,716.61 134.5,716.38 135.28,716.15 136.07,715.94 136.85,715.73 137.63,715.53 138.42,715.34 139.2,715.16 139.98,714.99 140.76,714.82 141.55,714.66 142.33,714.5 143.11,714.36 143.9,714.22 144.68,714.08 145.46,713.95 146.25,713.83 147.03,713.71 147.81,713.59 148.59,713.48 149.38,713.38 150.16,713.27 150.94,713.18 151.73,713.08 152.51,713 153.29,712.91 154.07,712.83 154.86,712.75 155.64,712.67 156.42,712.6 157.21,712.53 157.99,712.47 158.77,712.4 159.56,712.34 160.34,712.28 161.12,712.23 161.91,712.17 162.69,712.12 163.47,712.07 164.25,712.02 165.04,711.98 165.82,711.93 166.6,711.89 167.39,711.85 168.17,711.81 168.95,711.78 169.74,711.74 170.52,711.71 171.3,711.68 172.08,711.64 172.87,711.61 173.65,711.59 173.65,715.98 174.43,717.34 175.22,718.66 176,719.93 176.78,721.15 177.56,722.33 178.35,723.46 179.13,724.55 179.91,725.61 180.7,726.62 181.48,727.6 182.26,728.54 183.05,729.45 183.83,730.33 184.61,731.17 185.39,731.98 186.18,732.77 186.96,733.52 187.74,734.25 188.53,734.95 189.31,735.63 190.09,736.28 190.88,736.91 191.66,737.52 192.44,738.1 193.23,738.67 194.01,739.21 194.79,739.73 195.57,740.24 196.36,740.73 197.14,741.2 197.92,741.65 198.71,742.09 199.49,742.51 200.27,742.91 201.06,743.31 201.84,743.69 202.62,744.05 203.4,744.4 204.19,744.74 204.97,745.07 205.75,745.39 206.54,745.69 207.32,745.99 208.1,746.27 208.88,746.55 209.67,746.81 210.45,747.07 211.23,747.31 212.02,747.55 212.8,747.78 213.58,748 214.37,748.22 215.15,748.43 215.93,748.63 216.72,748.82 217.5,749.01 218.28,749.19 219.06,749.36 219.85,749.53 220.63,749.69 221.41,749.85 222.2,750 222.98,750.15 223.76,750.29 224.55,750.43 225.33,750.56 226.11,750.69 226.89,750.81 227.68,750.93 228.46,751.05 229.24,751.16 230.03,751.27 230.81,751.38 231.59,751.48 232.38,751.58 233.16,751.67 233.94,751.76 234.72,751.85 235.51,751.94 236.29,752.02 237.07,752.1 237.86,752.18 238.64,752.26 239.42,752.33 240.2,752.4 240.99,752.47 241.77,752.54 242.55,752.61 243.34,752.67 244.12,752.73 244.9,752.79 245.69,752.85 246.47,752.9 247.25,752.96 248.04,753.01 248.82,753.06 249.6,753.11 250.38,753.16 251.17,753.2 251.95,753.25 252.73,753.29 253.52,753.34 254.3,753.38 255.08,753.42 255.87,753.46 256.65,753.5 257.43,753.53 258.21,753.57 259,753.61 259.78,753.64 260.56,753.67 261.35,753.71 262.13,753.74 262.91,753.77 263.69,753.8 264.48,753.83 265.26,753.86 266.04,753.88 266.83,753.91 267.61,753.94 268.39,753.96 269.18,753.99 269.96,754.01 270.74,754.04 271.53,754.06 272.31,754.08 273.09,754.1 273.87,754.13 274.66,754.15 275.44,754.17 276.22,754.19 277.01,754.21 277.79,754.23 278.57,754.25 279.36,754.26 280.14,754.28 280.92,754.3 281.7,754.32 282.49,754.33 283.27,754.35 284.05,754.37 284.84,754.38 285.62,754.4 286.4,754.41 287.19,754.43 287.97,754.44 288.75,754.46 289.53,754.47 290.32,754.49 291.1,754.5" fill="none" stroke="#111" stroke-width="0.75"/>
<polyline points="95.35,755.5 96.13,754.63 96.92,753.79 97.7,752.97 98.48,752.19 99.27,751.42 100.05,750.69 100.83,749.98 101.61,749.29 102.4,748.63 103.18,747.99 103.96,747.37 104.75,746.77 105.53,746.19 106.31,745.63 107.09,745.08 107.88,744.56 108.66,744.06 109.44,743.57 110.23,743.09 111.01,742.64 111.79,742.2 112.58,741.77 113.36,741.36 114.14,740.96 114.93,740.57 115.71,740.2 116.49,739.84 117.27,739.49 118.06,739.16 118.84,738.83 119.62,738.52 120.41,738.21 121.19,737.92 121.97,737.64 122.76,737.36 123.54,737.1 124.32,736.84 125.1,736.59 125.89,736.35 126.67,736.12 127.45,735.9 128.24,735.68 129.02,735.47 129.8,735.27 130.59,735.08 131.37,734.89 132.15,734.7 132.93,734.53 133.72,734.36 134.5,734.19 135.28,734.03 136.07,733.88 136.85,733.73 137.63,733.59 138.42,733.45 139.2,733.31 139.98,733.18 140.76,733.06 141.55,732.94 142.33,732.82 143.11,732.71 143.9,732.6 144.68,732.49 145.46,732.39 146.25,732.29 147.03,732.19 147.81,732.1 148.59,732.01 149.38,731.93 150.16,731.84 150.94,731.76 151.73,731.68 152.51,731.61 153.29,731.54 154.07,731.47 154.86,731.4 155.64,731.33 156.42,731.27 157.21,731.21 157.99,731.15 158.77,731.09 159.56,731.03 160.34,730.98 161.12,730.93 161.91,730.88 162.69,730.83 163.47,730.78 164.25,730.74 165.04,730.69 165.82,730.65 166.6,730.61 167.39,730.57 168.17,730.53 168.95,730.5 169.74,730.46 170.52,730.43 171.3,730.39 172.08,730.36 172.87,730.33 173.65,730.3 173.65,732.82 174.43,733.6 175.22,734.36 176,735.09 176.78,735.79 177.56,736.46 178.35,737.11 179.13,737.74 179.91,738.35 180.7,738.93 181.48,739.49 182.26,740.03 183.05,740.55 183.83,741.05 184.61,741.54 185.39,742 186.18,742.45 186.96,742.89 187.74,743.31 188.53,743.71 189.31,744.1 190.09,744.47 190.88,744.83 191.66,745.18 192.44,745.52 193.23,745.84 194.01,746.15 194.79,746.45 195.57,746.74 196.36,747.02 197.14,747.29 197.92,747.55 198.71,747.8 199.49,748.04 200.27,748.28 201.06,748.5 201.84,748.72 202.62,748.93 203.4,749.13 204.19,749.33 204.97,749.52 205.75,749.7 206.54,749.87 207.32,750.04 208.1,750.2 208.88,750.36 209.67,750.51 210.45,750.66 211.23,750.8 212.02,750.94 212.8,751.07 213.58,751.2 214.37,751.32 215.15,751.44 215.93,751.56 216.72,751.67 217.5,751.77 218.28,751.88 219.06,751.98 219.85,752.07 220.63,752.17 221.41,752.26 222.2,752.34 222.98,752.43 223.76,752.51 224.55,752.59 225.33,752.67 226.11,752.74 226.89,752.81 227.68,752.88 228.46,752.95 229.24,753.01 230.03,753.07 230.81,753.13 231.59,753.19 232.38,753.25 233.16,753.3 233.94,753.36 234.72,753.41 235.51,753.46 236.29,753.5 237.07,753.55 237.86,753.6 238.64,753.64 239.42,753.68 240.2,753.72 240.99,753.76 241.77,753.8 242.55,753.84 243.34,753.88 244.12,753.91 244.9,753.94 245.69,753.98 246.47,754.01 247.25,754.04 248.04,754.07 248.82,754.1 249.6,754.13 250.38,754.16 251.17,754.18 251.95,754.21 252.73,754.23 253.52,754.26 254.3,754.28 255.08,754.31 255.87,754.33 256.65,754.35 257.43,754.37 258.21,754.39 259,754.41 259.78,754.43 260.56,754.45 261.35,754.47 262.13,754.49 262.91,754.51 263.69,754.52 264.48,754.54 265.26,754.56 266.04,754.57 266.83,754.59 267.61,754.6 268.39,754.62 269.18,754.63 269.96,754.65 270.74,754.66 271.53,754.67 272.31,754.69 273.09,754.7 273.87,754.71 274.66,754.72 275.44,754.74 276.22,754.75 277.01,754.76 277.79,754.77 278.57,754.78 279.36,754.79 280.14,754.8 280.92,754.81 281.7,754.82 282.49,754.83 283.27,754.84 284.05,754.85 284.84,754.86 285.62,754.87 286.4,754.88 287.19,754.89 287.97,754.89 288.75,754.9 289.53,754.91 290.32,754.92 291.1,754.93" fill="none" stroke="#111" stroke-width="0.75"/>
<polyline points="95.35,755.5 96.13,755.08 96.92,754.67 97.7,754.28 98.48,753.89 99.27,753.52 100.05,753.16 100.83,752.81 101.61,752.47 102.4,752.14 103.18,751.81 103.96,751.5 104.75,751.2 105.53,750.91 106.31,750.62 107.09,750.35 107.88,750.08 108.66,749.82 109.44,749.57 110.23,749.32 111.01,749.08 111.79,748.85 112.58,748.63 113.36,748.41 114.14,748.2 114.93,748 115.71,747.8 116.49,747.61 117.27,747.42 118.06,747.24 118.84,747.06 119.62,746.89 120.41,746.72 121.19,746.56 121.97,746.41 122.76,746.26 123.54,746.11 124.32,745.97 125.1,745.83 125.89,745.69 126.67,745.56 127.45,745.44 128.24,745.31 129.02,745.19 129.8,745.08 130.59,744.97 131.37,744.86 132.15,744.75 132.93,744.65 133.72,744.55 134.5,744.45 135.28,744.36 136.07,744.27 136.85,744.18 137.63,744.09 138.42,744.01 139.2,743.93 139.98,743.85 140.76,743.78 141.55,743.7 142.33,743.63 143.11,743.56 143.9,743.49 144.68,743.43 145.46,743.36 146.25,743.3 147.03,743.24 147.81,743.19 148.59,743.13 149.38,743.07 150.16,743.02 150.94,742.97 151.73,742.92 152.51,742.87 153.29,742.82 154.07,742.78 154.86,742.73 155.64,742.69 156.42,742.65 157.21,742.61 157.99,742.57 158.77,742.53 159.56,742.49 160.34,742.46 161.12,742.42 161.91,742.39 162.69,742.36 163.47,742.33 164.25,742.29 165.04,742.26 165.82,742.24 166.6,742.21 167.39,742.18 168.17,742.15 168.95,742.13 169.74,742.1 170.52,742.08 171.3,742.05 172.08,742.03 172.87,742.01 173.65,741.99 173.65,743.34 174.43,743.76 175.22,744.16 176,744.55 176.78,744.93 177.56,745.29 178.35,745.64 179.13,745.98 179.91,746.3 180.7,746.61 181.48,746.91 182.26,747.21 183.05,747.48 183.83,747.75 184.61,748.01 185.39,748.26 186.18,748.5 186.96,748.74 187.74,748.96 188.53,749.18 189.31,749.39 190.09,749.59 190.88,749.78 191.66,749.97 192.44,750.15 193.23,750.32 194.01,750.49 194.79,750.65 195.57,750.8 196.36,750.95 197.14,751.1 197.92,751.24 198.71,751.37 199.49,751.5 200.27,751.63 201.06,751.75 201.84,751.86 202.62,751.98 203.4,752.09 204.19,752.19 204.97,752.29 205.75,752.39 206.54,752.48 207.32,752.57 208.1,752.66 208.88,752.75 209.67,752.83 210.45,752.91 211.23,752.98 212.02,753.05 212.8,753.13 213.58,753.19 214.37,753.26 215.15,753.32 215.93,753.39 216.72,753.44 217.5,753.5 218.28,753.56 219.06,753.61 219.85,753.66 220.63,753.71 221.41,753.76 222.2,753.81 222.98,753.85 223.76,753.9 224.55,753.94 225.33,753.98 226.11,754.02 226.89,754.06 227.68,754.09 228.46,754.13 229.24,754.17 230.03,754.2 230.81,754.23 231.59,754.26 232.38,754.29 233.16,754.32 233.94,754.35 234.72,754.38 235.51,754.4 236.29,754.43 237.07,754.45 237.86,754.48 238.64,754.5 239.42,754.53 240.2,754.55 240.99,754.57 241.77,754.59 242.55,754.61 243.34,754.63 244.12,754.65 244.9,754.67 245.69,754.68 246.47,754.7 247.25,754.72 248.04,754.73 248.82,754.75 249.6,754.76 250.38,754.78 251.17,754.79 251.95,754.81 252.73,754.82 253.52,754.83 254.3,754.85 255.08,754.86 255.87,754.87 256.65,754.88 257.43,754.9 258.21,754.91 259,754.92 259.78,754.93 260.56,754.94 261.35,754.95 262.13,754.96 262.91,754.97 263.69,754.98 264.48,754.99 265.26,754.99 266.04,755 266.83,755.01 267.61,755.02 268.39,755.03 269.18,755.03 269.96,755.04 270.74,755.05 271.53,755.06 272.31,755.06 273.09,755.07 273.87,755.08 274.66,755.08 275.44,755.09 276.22,755.1 277.01,755.1 277.79,755.11 278.57,755.11 279.36,755.12 280.14,755.13 280.92,755.13 281.7,755.14 282.49,755.14 283.27,755.15 284.05,755.15 284.84,755.16 285.62,755.16 286.4,755.17 287.19,755.17 287.97,755.17 288.75,755.18 289.53,755.18 290.32,755.19 291.1,755.19" fill="none" stroke="#111" stroke-width="0.75"/>
<polyline points="95.35,755.5 96.13,755.29 96.92,755.09 97.7,754.89 98.48,754.7 99.27,754.51 100.05,754.33 100.83,754.16 101.61,753.98 102.4,753.82 103.18,753.66 103.96,753.5 104.75,753.34 105.53,753.2 106.31,753.05 107.09,752.91 107.88,752.77 108.66,752.64 109.44,752.51 110.23,752.38 111.01,752.26 111.79,752.14 112.58,752.03 113.36,751.91 114.14,751.8 114.93,751.7 115.71,751.59 116.49,751.49 117.27,751.4 118.06,751.3 118.84,751.21 119.62,751.12 120.41,751.03 121.19,750.94 121.97,750.86 122.76,750.78 123.54,750.7 124.32,750.63 125.1,750.55 125.89,750.48 126.67,750.41 127.45,750.34 128.24,750.28 129.02,750.21 129.8,750.15 130.59,750.09 131.37,750.03 132.15,749.97 132.93,749.92 133.72,749.86 134.5,749.81 135.28,749.76 136.07,749.71 136.85,749.66 137.63,749.61 138.42,749.57 139.2,749.52 139.98,749.48 140.76,749.44 141.55,749.39 142.33,749.35 143.11,749.32 143.9,749.28 144.68,749.24 145.46,749.21 146.25,749.17 147.03,749.14 147.81,749.1 148.59,749.07 149.38,749.04 150.16,749.01 150.94,748.98 151.73,748.95 152.51,748.93 153.29,748.9 154.07,748.87 154.86,748.85 155.64,748.82 156.42,748.8 157.21,748.77 157.99,748.75 158.77,748.73 159.56,748.71 160.34,748.69 161.12,748.67 161.91,748.65 162.69,748.63 163.47,748.61 164.25,748.59 165.04,748.57 165.82,748.55 166.6,748.54 167.39,748.52 168.17,748.51 168.95,748.49 169.74,748.48 170.52,748.46 171.3,748.45 172.08,748.43 172.87,748.42 173.65,748.41 173.65,749.12 174.43,749.34 175.22,749.55 176,749.75 176.78,749.95 177.56,750.14 178.35,750.32 179.13,750.5 179.91,750.67 180.7,750.83 181.48,750.99 182.26,751.15 183.05,751.29 183.83,751.43 184.61,751.57 185.39,751.7 186.18,751.83 186.96,751.95 187.74,752.07 188.53,752.18 189.31,752.29 190.09,752.4 190.88,752.5 191.66,752.6 192.44,752.69 193.23,752.78 194.01,752.87 194.79,752.95 195.57,753.03 196.36,753.11 197.14,753.19 197.92,753.26 198.71,753.33 199.49,753.4 200.27,753.47 201.06,753.53 201.84,753.59 202.62,753.65 203.4,753.71 204.19,753.76 204.97,753.82 205.75,753.87 206.54,753.92 207.32,753.96 208.1,754.01 208.88,754.05 209.67,754.1 210.45,754.14 211.23,754.18 212.02,754.22 212.8,754.25 213.58,754.29 214.37,754.32 215.15,754.36 215.93,754.39 216.72,754.42 217.5,754.45 218.28,754.48 219.06,754.51 219.85,754.54 220.63,754.56 221.41,754.59 222.2,754.61 222.98,754.64 223.76,754.66 224.55,754.68 225.33,754.7 226.11,754.72 226.89,754.74 227.68,754.76 228.46,754.78 229.24,754.8 230.03,754.82 230.81,754.83 231.59,754.85 232.38,754.87 233.16,754.88 233.94,754.9 234.72,754.91 235.51,754.92 236.29,754.94 237.07,754.95 237.86,754.96 238.64,754.98 239.42,754.99 240.2,755 240.99,755.01 241.77,755.02 242.55,755.03 243.34,755.04 244.12,755.05 244.9,755.06 245.69,755.07 246.47,755.08 247.25,755.09 248.04,755.1 248.82,755.11 249.6,755.11 250.38,755.12 251.17,755.13 251.95,755.14 252.73,755.14 253.52,755.15 254.3,755.16 255.08,755.16 255.87,755.17 256.65,755.18 257.43,755.18 258.21,755.19 259,755.19 259.78,755.2 260.56,755.2 261.35,755.21 262.13,755.22 262.91,755.22 263.69,755.23 264.48,755.23 265.26,755.23 266.04,755.24 266.83,755.24 267.61,755.25 268.39,755.25 269.18,755.26 269.96,755.26 270.74,755.26 271.53,755.27 272.31,755.27 273.09,755.27 273.87,755.28 274.66,755.28 275.44,755.28 276.22,755.29 277.01,755.29 277.79,755.29 278.57,755.3 279.36,755.3 280.14,755.3 280.92,755.31 281.7,755.31 282.49,755.31 283.27,755.31 284.05,755.32 284.84,755.32 285.62,755.32 286.4,755.32 287.19,755.33 287.97,755.33 288.75,755.33 289.53,755.33 290.32,755.34 291.1,755.34" fill="none" stroke="#111" stroke-width="0.75"/>
<polyline points="95.35,755.5 96.13,755.4 96.92,755.3 97.7,755.21 98.48,755.12 99.27,755.03 100.05,754.94 100.83,754.86 101.61,754.77 102.4,754.69 103.18,754.61 103.96,754.54 104.75,754.46 105.53,754.39 106.31,754.32 107.09,754.25 107.88,754.18 108.66,754.12 109.44,754.05 110.23,753.99 111.01,753.93 111.79,753.87 112.58,753.82 113.36,753.76 114.14,753.7 114.93,753.65 115.71,753.6 116.49,753.55 117.27,753.5 118.06,753.45 118.84,753.41 119.62,753.36 120.41,753.32 121.19,753.27 121.97,753.23 122.76,753.19 123.54,753.15 124.32,753.11 125.1,753.07 125.89,753.04 126.67,753 127.45,752.96 128.24,752.93 129.02,752.9 129.8,752.86 130.59,752.83 131.37,752.8 132.15,752.77 132.93,752.74 133.72,752.71 134.5,752.69 135.28,752.66 136.07,752.63 136.85,752.61 137.63,752.58 138.42,752.56 139.2,752.53 139.98,752.51 140.76,752.49 141.55,752.47 142.33,752.44 143.11,752.42 143.9,752.4 144.68,752.38 145.46,752.36 146.25,752.35 147.03,752.33 147.81,752.31 148.59,752.29 149.38,752.28 150.16,752.26 150.94,752.24 151.73,752.23 152.51,752.21 153.29,752.2 154.07,752.18 154.86,752.17 155.64,752.15 156.42,752.14 157.21,752.13 157.99,752.12 158.77,752.1 159.56,752.09 160.34,752.08 161.12,752.07 161.91,752.06 162.69,752.05 163.47,752.03 164.25,752.02 165.04,752.01 165.82,752 166.6,752 167.39,751.99 168.17,751.98 168.95,751.97 169.74,751.96 170.52,751.95 171.3,751.94 172.08,751.93 172.87,751.93 173.65,751.92 173.65,752.28 174.43,752.39 175.22,752.5 176,752.6 176.78,752.7 177.56,752.79 178.35,752.89 179.13,752.98 179.91,753.06 180.7,753.15 181.48,753.22 182.26,753.3 183.05,753.38 183.83,753.45 184.61,753.52 185.39,753.58 186.18,753.65 186.96,753.71 187.74,753.77 188.53,753.82 189.31,753.88 190.09,753.93 190.88,753.98 191.66,754.03 192.44,754.08 193.23,754.13 194.01,754.17 194.79,754.21 195.57,754.26 196.36,754.3 197.14,754.33 197.92,754.37 198.71,754.41 199.49,754.44 200.27,754.47 201.06,754.51 201.84,754.54 202.62,754.57 203.4,754.6 204.19,754.62 204.97,754.65 205.75,754.68 206.54,754.7 207.32,754.72 208.1,754.75 208.88,754.77 209.67,754.79 210.45,754.81 211.23,754.83 212.02,754.85 212.8,754.87 213.58,754.89 214.37,754.91 215.15,754.92 215.93,754.94 216.72,754.96 217.5,754.97 218.28,754.99 219.06,755 219.85,755.01 220.63,755.03 221.41,755.04 222.2,755.05 222.98,755.06 223.76,755.08 224.55,755.09 225.33,755.1 226.11,755.11 226.89,755.12 227.68,755.13 228.46,755.14 229.24,755.15 230.03,755.16 230.81,755.16 231.59,755.17 232.38,755.18 233.16,755.19 233.94,755.2 234.72,755.2 235.51,755.21 236.29,755.22 237.07,755.22 237.86,755.23 238.64,755.24 239.42,755.24 240.2,755.25 240.99,755.25 241.77,755.26 242.55,755.26 243.34,755.27 244.12,755.27 244.9,755.28 245.69,755.28 246.47,755.29 247.25,755.29 248.04,755.3 248.82,755.3 249.6,755.31 250.38,755.31 251.17,755.31 251.95,755.32 252.73,755.32 253.52,755.32 254.3,755.33 255.08,755.33 255.87,755.33 256.65,755.34 257.43,755.34 258.21,755.34 259,755.35 259.78,755.35 260.56,755.35 261.35,755.35 262.13,755.36 262.91,755.36 263.69,755.36 264.48,755.36 265.26,755.37 266.04,755.37 266.83,755.37 267.61,755.37 268.39,755.37 269.18,755.38 269.96,755.38 270.74,755.38 271.53,755.38 272.31,755.38 273.09,755.39 273.87,755.39 274.66,755.39 275.44,755.39 276.22,755.39 277.01,755.39 277.79,755.4 278.57,755.4 279.36,755.4 280.14,755.4 280.92,755.4 281.7,755.4 282.49,755.4 283.27,755.41 284.05,755.41 284.84,755.41 285.62,755.41 286.4,755.41 287.19,755.41 287.97,755.41 288.75,755.42 289.53,755.42 290.32,755.42 291.1,755.42" fill="none" stroke="#111" stroke-width="0.75"/>
<polyline points="95.35,755.5 96.13,755.46 96.92,755.41 97.7,755.37 98.48,755.33 99.27,755.29 100.05,755.25 100.83,755.21 101.61,755.18 102.4,755.14 103.18,755.1 103.96,755.07 104.75,755.04 105.53,755 106.31,754.97 107.09,754.94 107.88,754.91 108.66,754.88 109.44,754.85 110.23,754.82 111.01,754.79 111.79,754.76 112.58,754.74 113.36,754.71 114.14,754.69 114.93,754.66 115.71,754.64 116.49,754.61 117.27,754.59 118.06,754.57 118.84,754.55 119.62,754.53 120.41,754.5 121.19,754.48 121.97,754.46 122.76,754.44 123.54,754.43 124.32,754.41 125.1,754.39 125.89,754.37 126.67,754.35 127.45,754.34 128.24,754.32 129.02,754.3 129.8,754.29 130.59,754.27 131.37,754.26 132.15,754.24 132.93,754.23 133.72,754.22 134.5,754.2 135.28,754.19 136.07,754.18 136.85,754.16 137.63,754.15 138.42,754.14 139.2,754.13 139.98,754.12 140.76,754.1 141.55,754.09 142.33,754.08 143.11,754.07 143.9,754.06 144.68,754.05 145.46,754.04 146.25,754.03 147.03,754.02 147.81,754.01 148.59,754.01 149.38,754 150.16,753.99 150.94,753.98 151.73,753.97 152.51,753.96 153.29,753.96 154.07,753.95 154.86,753.94 155.64,753.94 156.42,753.93 157.21,753.92 157.99,753.91 158.77,753.91 159.56,753.9 160.34,753.9 161.12,753.89 161.91,753.88 162.69,753.88 163.47,753.87 164.25,753.87 165.04,753.86 165.82,753.86 166.6,753.85 167.39,753.85 168.17,753.84 168.95,753.84 169.74,753.83 170.52,753.83 171.3,753.82 172.08,753.82 172.87,753.82 173.65,753.81 173.65,753.98 174.43,754.03 175.22,754.08 176,754.13 176.78,754.18 177.56,754.22 178.35,754.27 179.13,754.31 179.91,754.35 180.7,754.39 181.48,754.43 182.26,754.46 183.05,754.5 183.83,754.53 184.61,754.56 185.39,754.6 186.18,754.63 186.96,754.65 187.74,754.68 188.53,754.71 189.31,754.74 190.09,754.76 190.88,754.79 191.66,754.81 192.44,754.83 193.23,754.85 194.01,754.87 194.79,754.89 195.57,754.91 196.36,754.93 197.14,754.95 197.92,754.97 198.71,754.98 199.49,755 200.27,755.02 201.06,755.03 201.84,755.05 202.62,755.06 203.4,755.07 204.19,755.09 204.97,755.1 205.75,755.11 206.54,755.12 207.32,755.13 208.1,755.15 208.88,755.16 209.67,755.17 210.45,755.18 211.23,755.19 212.02,755.19 212.8,755.2 213.58,755.21 214.37,755.22 215.15,755.23 215.93,755.24 216.72,755.24 217.5,755.25 218.28,755.26 219.06,755.26 219.85,755.27 220.63,755.28 221.41,755.28 222.2,755.29 222.98,755.29 223.76,755.3 224.55,755.3 225.33,755.31 226.11,755.31 226.89,755.32 227.68,755.32 228.46,755.33 229.24,755.33 230.03,755.34 230.81,755.34 231.59,755.35 232.38,755.35 233.16,755.35 233.94,755.36 234.72,755.36 235.51,755.36 236.29,755.37 237.07,755.37 237.86,755.37 238.64,755.38 239.42,755.38 240.2,755.38 240.99,755.38 241.77,755.39 242.55,755.39 243.34,755.39 244.12,755.39 244.9,755.4 245.69,755.4 246.47,755.4 247.25,755.4 248.04,755.4 248.82,755.41 249.6,755.41 250.38,755.41 251.17,755.41 251.95,755.41 252.73,755.42 253.52,755.42 254.3,755.42 255.08,755.42 255.87,755.42 256.65,755.42 257.43,755.42 258.21,755.43 259,755.43 259.78,755.43 260.56,755.43 261.35,755.43 262.13,755.43 262.91,755.43 263.69,755.43 264.48,755.44 265.26,755.44 266.04,755.44 266.83,755.44 267.61,755.44 268.39,755.44 269.18,755.44 269.96,755.44 270.74,755.44 271.53,755.44 272.31,755.45 273.09,755.45 273.87,755.45 274.66,755.45 275.44,755.45 276.22,755.45 277.01,755.45 277.79,755.45 278.57,755.45 279.36,755.45 280.14,755.45 280.92,755.45 281.7,755.45 282.49,755.46 283.27,755.46 284.05,755.46 284.84,755.46 285.62,755.46 286.4,755.46 287.19,755.46 287.97,755.46 288.75,755.46 289.53,755.46 290.32,755.46 291.1,755.46" fill="none" stroke="#111" stroke-width="0.75"/>
<path d="M385,603.4 V772.3 H658.49" stroke="#333" stroke-width="0.8" fill="none"/>
<path d="M382.6,772.49 H387" stroke="#333" stroke-width="0.8"/>
<text x="380.8" y="774.59" font-family='"Liberation Sans", sans-serif' font-size="6" fill="#222" text-anchor="end">-20</text>
<path d="M385,760.44 H386.8" stroke="#333" stroke-width="0.7"/>
<path d="M382.6,748.4 H387" stroke="#333" stroke-width="0.8"/>
<text x="380.8" y="750.5" font-family='"Liberation Sans", sans-serif' font-size="6" fill="#222" text-anchor="end">0</text>
<path d="M385,736.36 H386.8" stroke="#333" stroke-width="0.7"/>
<path d="M382.6,724.31 H387" stroke="#333" stroke-width="0.8"/>
<text x="380.8" y="726.41" font-family='"Liberation Sans", sans-serif' font-size="6" fill="#222" text-anchor="end">20</text>
<path d="M385,712.26 H386.8" stroke="#333" stroke-width="0.7"/>
<path d="M382.6,700.22 H387" stroke="#333" stroke-width="0.8"/>
<text x="380.8" y="702.32" font-family='"Liberation Sans", sans-serif' font-size="6" fill="#222" text-anchor="end">40</text>
<path d="M385,688.17 H386.8" stroke="#333" stroke-width="0.7"/>
<path d="M382.6,676.13 H387" stroke="#333" stroke-width="0.8"/>
<text x="380.8" y="678.23" font-family='"Liberation Sans", sans-serif' font-size="6" fill="#222" text-anchor="end">60</text>
<path d="M385,664.09 H386.8" stroke="#333" stroke-width="0.7"/>
<path d="M382.6,652.04 H387" stroke="#333" stroke-width="0.8"/>
<text x="380.8" y="654.14" font-family='"Liberation Sans", sans-serif' font-size="6" fill="#222" text-anchor="end">80</text>
<path d="M385,640 H386.8" stroke="#333" stroke-width="0.7"/>
<path d="M382.6,627.95 H387" stroke="#333" stroke-width="0.8"/>
<text x="380.8" y="630.05" font-family='"Liberation Sans", sans-serif' font-size="6" fill="#222" text-anchor="end">100</text>
<path d="M385,615.9 H386.8" stroke="#333" stroke-width="0.7"/>
<path d="M382.6,603.86 H387" stroke="#333" stroke-width="0.8"/>
<text x="380.8" y="605.96" font-family='"Liberation Sans", sans-serif' font-size="6" fill="#222" text-anchor="end">120</text>
<path d="M385,770.3 V774.7" stroke="#333" stroke-width="0.8"/>
<text x="385" y="782.9" font-family='"Liberation Sans", sans-serif' font-size="6" fill="#222" text-anchor="middle">-100</text>
<path d="M404.54,770.5 V772.3" stroke="#333" stroke-width="0.7"/>
<path d="M424.07,770.3 V774.7" stroke="#333" stroke-width="0.8"/>
<text x="424.07" y="782.9" font-family='"Liberation Sans", sans-serif' font-size="6" fill="#222" text-anchor="middle">0</text>
<path d="M443.61,770.5 V772.3" stroke="#333" stroke-width="0.7"/>
<path d="M463.14,770.3 V774.7" stroke="#333" stroke-width="0.8"/>
<text x="463.14" y="782.9" font-family='"Liberation Sans", sans-serif' font-size="6" fill="#222" text-anchor="middle">100</text>
<path d="M482.68,770.5 V772.3" stroke="#333" stroke-width="0.7"/>
<path d="M502.21,770.3 V774.7" stroke="#333" stroke-width="0.8"/>
<text x="502.21" y="782.9" font-family='"Liberation Sans", sans-serif' font-size="6" fill="#222" text-anchor="middle">200</text>
<path d="M521.75,770.5 V772.3" stroke="#333" stroke-width="0.7"/>
<path d="M541.28,770.3 V774.7" stroke="#333" stroke-width="0.8"/>
<text x="541.28" y="782.9" font-family='"Liberation Sans", sans-serif' font-size="6" fill="#222" text-anchor="middle">300</text>
<path d="M560.82,770.5 V772.3" stroke="#333" stroke-width="0.7"/>
<path d="M580.35,770.3 V774.7" stroke="#333" stroke-width="0.8"/>
<text x="580.35" y="782.9" font-family='"Liberation Sans", sans-serif' font-size="6" fill="#222" text-anchor="middle">400</text>
<path d="M599.88,770.5 V772.3" stroke="#333" stroke-width="0.7"/>
<path d="M619.42,770.3 V774.7" stroke="#333" stroke-width="0.8"/>
<text x="619.42" y="782.9" font-family='"Liberation Sans", sans-serif' font-size="6" fill="#222" text-anchor="middle">500</text>
<path d="M638.95,770.5 V772.3" stroke="#333" stroke-width="0.7"/>
<path d="M658.49,770.3 V774.7" stroke="#333" stroke-width="0.8"/>
<text x="658.49" y="782.9" font-family='"Liberation Sans", sans-serif' font-size="6" fill="#222" text-anchor="middle">600</text>
<text x="366.7" y="595.5" font-family='"Liberation Sans", sans-serif' font-size="6" fill="#222">RU</text>
<text x="662.99" y="791.5" font-family='"Liberation Sans", sans-serif' font-size="6" fill="#222">s</text>
<text x="512.37" y="791.5" font-family='"Liberation Sans", sans-serif' font-size="6.2" font-weight="bold" fill="#222" text-anchor="middle">Tim e</text>
<text transform="translate(365,692.05) rotate(-90)" font-family='"Liberation Sans", sans-serif' font-size="5.8" font-weight="bold" fill="#222" text-anchor="middle">Response</text>
<text x="412.6" y="601.6" font-family='"Liberation Sans", sans-serif' font-size="5.7" fill="#333" text-anchor="middle">ka 2.38E+06</text>
<text x="412.6" y="608.7" font-family='"Liberation Sans", sans-serif' font-size="5.7" fill="#333" text-anchor="middle">kd 0.01508</text>
<text x="412.6" y="615.8" font-family='"Liberation Sans", sans-serif' font-size="5.7" fill="#333" text-anchor="middle">KD 6.34E-09</text>
<text x="450.5" y="602" font-family='"Liberation Sans", sans-serif' font-size="9.3" fill="#2a2a2a" textLength="73.3" lengthAdjust="spacingAndGlyphs">PV2-S71+PV3-N77</text>
<polyline points="400.63,748.4 404.54,748.4 408.44,748.4 412.35,748.4 416.26,748.4 420.16,748.4 424.07,748.4 424.85,720.17 425.63,698.5 426.41,681.86 427.2,669.07 427.98,659.25 428.76,651.69 429.54,645.86 430.32,641.38 431.1,637.91 431.88,635.22 432.67,633.14 433.45,631.52 434.23,630.25 435.01,629.26 435.79,628.47 436.57,627.85 437.35,627.35 438.14,626.95 438.92,626.61 439.7,626.34 440.48,626.11 441.26,625.91 442.04,625.74 442.82,625.6 443.61,625.46 444.39,625.35 445.17,625.24 445.95,625.14 446.73,625.04 447.51,624.96 448.29,624.87 449.07,624.8 449.86,624.72 450.64,624.65 451.42,624.58 452.2,624.51 452.98,624.45 453.76,624.38 454.54,624.32 455.33,624.26 456.11,624.2 456.89,624.15 457.67,624.09 458.45,624.04 459.23,623.99 460.01,623.93 460.8,623.88 461.58,623.84 462.36,623.79 463.14,623.74 463.92,623.7 464.7,623.65 465.48,623.61 466.27,623.57 467.05,623.53 467.83,623.49 468.61,623.45 469.39,623.41 470.17,623.37 470.95,623.33 471.74,623.3 472.52,623.26 473.3,623.23 474.08,623.2 474.86,623.17 475.64,623.13 476.42,623.1 477.21,623.07 477.99,623.04 478.77,623.01 479.55,622.99 480.33,622.96 481.11,622.93 481.89,622.91 482.68,622.88 483.46,622.86 484.24,622.83 485.02,622.81 485.8,622.79 486.58,622.76 487.36,622.74 488.14,622.72 488.93,622.7 489.71,622.68 490.49,622.66 491.27,622.64 492.05,622.62 492.83,622.6 493.61,622.58 494.4,622.57 495.18,622.55 495.96,622.53 496.74,622.51 497.52,622.5 498.3,622.48 499.08,622.47 499.87,622.45 500.65,622.44 501.43,622.42 502.21,622.41 502.44,622.41 502.84,625.47 503.23,628.37 503.62,631.11 504.01,633.72 504.4,636.2 504.79,638.55 505.18,640.8 505.57,642.95 505.96,645 506.35,646.97 506.74,648.86 507.13,650.67 507.52,652.41 507.91,654.09 508.3,655.71 508.7,657.27 509.09,658.78 509.48,660.24 509.87,661.66 510.26,663.03 511.43,666.9 512.6,670.47 513.77,673.76 514.95,676.82 516.12,679.68 517.29,682.36 518.46,684.87 519.64,687.23 520.81,689.46 521.98,691.56 523.15,693.54 524.32,695.42 525.5,697.19 526.67,698.87 527.84,700.45 529.01,701.96 530.18,703.38 531.36,704.73 532.53,706.01 533.7,707.22 534.87,708.37 536.04,709.46 537.22,710.49 538.39,711.47 539.56,712.4 540.73,713.28 541.91,714.12 543.08,714.91 544.25,715.66 545.42,716.37 546.59,717.05 547.77,717.69 548.94,718.3 550.11,718.87 551.28,719.42 552.45,719.94 553.63,720.44 554.8,720.9 555.97,721.35 557.14,721.77 558.31,722.17 559.49,722.55 560.66,722.92 561.83,723.26 563,723.59 564.18,723.9 565.35,724.19 566.52,724.47 567.69,724.74 568.86,724.99 570.04,725.23 571.21,725.46 572.38,725.68 573.55,725.89 574.72,726.08 575.9,726.27 577.07,726.45 578.24,726.62 579.41,726.78 580.58,726.94 581.76,727.08 582.93,727.22 584.1,727.36 585.27,727.49 586.44,727.61 587.62,727.73 588.79,727.84 589.96,727.94 591.13,728.04 592.31,728.14 593.48,728.23 594.65,728.32 595.82,728.41 596.99,728.49 598.17,728.57 599.34,728.64 600.51,728.71 601.68,728.78 602.85,728.85 604.03,728.91 605.2,728.97 606.37,729.03 607.54,729.09 608.71,729.14 609.89,729.2 611.06,729.25 612.23,729.29 613.4,729.34 614.58,729.39 615.75,729.43 616.92,729.47 618.09,729.51 619.26,729.55" fill="none" stroke="#e2a82a" stroke-width="0.75"/>
<polyline points="400.63,748.4 404.54,748.4 408.44,748.4 412.35,748.4 416.26,748.4 420.16,748.4 424.07,748.4 424.85,735.12 425.63,724.04 426.41,714.78 427.2,707.05 427.98,700.57 428.76,695.13 429.54,690.55 430.32,686.69 431.1,683.43 431.88,680.66 432.67,678.3 433.45,676.28 434.23,674.55 435.01,673.05 435.79,671.76 436.57,670.62 437.35,669.63 438.14,668.75 438.92,667.96 439.7,667.26 440.48,666.63 441.26,666.05 442.04,665.53 442.82,665.04 443.61,664.59 444.39,664.18 445.17,663.79 445.95,663.42 446.73,663.07 447.51,662.75 448.29,662.43 449.07,662.13 449.86,661.85 450.64,661.57 451.42,661.3 452.2,661.05 452.98,660.8 453.76,660.56 454.54,660.33 455.33,660.1 456.11,659.89 456.89,659.67 457.67,659.47 458.45,659.27 459.23,659.07 460.01,658.88 460.8,658.69 461.58,658.51 462.36,658.34 463.14,658.16 463.92,658 464.7,657.83 465.48,657.67 466.27,657.52 467.05,657.37 467.83,657.22 468.61,657.07 469.39,656.93 470.17,656.79 470.95,656.66 471.74,656.53 472.52,656.4 473.3,656.27 474.08,656.15 474.86,656.03 475.64,655.92 476.42,655.8 477.21,655.69 477.99,655.58 478.77,655.48 479.55,655.37 480.33,655.27 481.11,655.18 481.89,655.08 482.68,654.99 483.46,654.89 484.24,654.8 485.02,654.72 485.8,654.63 486.58,654.55 487.36,654.47 488.14,654.39 488.93,654.31 489.71,654.24 490.49,654.16 491.27,654.09 492.05,654.02 492.83,653.95 493.61,653.88 494.4,653.82 495.18,653.76 495.96,653.69 496.74,653.63 497.52,653.57 498.3,653.51 499.08,653.46 499.87,653.4 500.65,653.35 501.43,653.3 502.21,653.24 502.44,653.24 502.84,655.56 503.23,657.75 503.62,659.82 504.01,661.79 504.4,663.66 504.79,665.44 505.18,667.14 505.57,668.76 505.96,670.31 506.35,671.79 506.74,673.22 507.13,674.59 507.52,675.9 507.91,677.17 508.3,678.4 508.7,679.58 509.09,680.72 509.48,681.82 509.87,682.89 510.26,683.92 511.43,686.85 512.6,689.54 513.77,692.03 514.95,694.34 516.12,696.5 517.29,698.52 518.46,700.42 519.64,702.2 520.81,703.88 521.98,705.47 523.15,706.97 524.32,708.38 525.5,709.72 526.67,710.99 527.84,712.19 529.01,713.32 530.18,714.4 531.36,715.42 532.53,716.38 533.7,717.3 534.87,718.17 536.04,718.99 537.22,719.77 538.39,720.51 539.56,721.21 540.73,721.88 541.91,722.51 543.08,723.1 544.25,723.67 545.42,724.21 546.59,724.72 547.77,725.2 548.94,725.66 550.11,726.1 551.28,726.51 552.45,726.91 553.63,727.28 554.8,727.63 555.97,727.97 557.14,728.29 558.31,728.59 559.49,728.88 560.66,729.15 561.83,729.41 563,729.66 564.18,729.89 565.35,730.12 566.52,730.33 567.69,730.53 568.86,730.72 570.04,730.9 571.21,731.07 572.38,731.24 573.55,731.4 574.72,731.54 575.9,731.69 577.07,731.82 578.24,731.95 579.41,732.07 580.58,732.19 581.76,732.3 582.93,732.41 584.1,732.51 585.27,732.6 586.44,732.7 587.62,732.79 588.79,732.87 589.96,732.95 591.13,733.03 592.31,733.1 593.48,733.17 594.65,733.24 595.82,733.3 596.99,733.36 598.17,733.42 599.34,733.48 600.51,733.53 601.68,733.58 602.85,733.63 604.03,733.68 605.2,733.73 606.37,733.77 607.54,733.81 608.71,733.86 609.89,733.9 611.06,733.93 612.23,733.97 613.4,734.01 614.58,734.04 615.75,734.07 616.92,734.11 618.09,734.14 619.26,734.17" fill="none" stroke="#30d8d8" stroke-width="0.75"/>
<polyline points="400.63,748.4 404.54,748.4 408.44,748.4 412.35,748.4 416.26,748.4 420.16,748.4 424.07,748.4 424.85,742.04 425.63,736.4 426.41,731.39 427.2,726.93 427.98,722.98 428.76,719.45 429.54,716.32 430.32,713.52 431.1,711.03 431.88,708.8 432.67,706.8 433.45,705.01 434.23,703.41 435.01,701.97 435.79,700.68 436.57,699.51 437.35,698.45 438.14,697.5 438.92,696.64 439.7,695.85 440.48,695.13 441.26,694.48 442.04,693.88 442.82,693.34 443.61,692.83 444.39,692.37 445.17,691.94 445.95,691.54 446.73,691.17 447.51,690.83 448.29,690.51 449.07,690.21 449.86,689.93 450.64,689.66 451.42,689.41 452.2,689.18 452.98,688.95 453.76,688.74 454.54,688.54 455.33,688.35 456.11,688.16 456.89,687.99 457.67,687.82 458.45,687.66 459.23,687.5 460.01,687.35 460.8,687.21 461.58,687.07 462.36,686.94 463.14,686.81 463.92,686.68 464.7,686.56 465.48,686.45 466.27,686.33 467.05,686.22 467.83,686.11 468.61,686.01 469.39,685.91 470.17,685.81 470.95,685.72 471.74,685.62 472.52,685.53 473.3,685.45 474.08,685.36 474.86,685.28 475.64,685.2 476.42,685.12 477.21,685.04 477.99,684.96 478.77,684.89 479.55,684.82 480.33,684.75 481.11,684.68 481.89,684.62 482.68,684.55 483.46,684.49 484.24,684.43 485.02,684.37 485.8,684.31 486.58,684.25 487.36,684.2 488.14,684.14 488.93,684.09 489.71,684.04 490.49,683.99 491.27,683.94 492.05,683.89 492.83,683.84 493.61,683.79 494.4,683.75 495.18,683.71 495.96,683.66 496.74,683.62 497.52,683.58 498.3,683.54 499.08,683.5 499.87,683.47 500.65,683.43 501.43,683.39 502.21,683.36 502.44,683.36 502.84,684.94 503.23,686.43 503.62,687.85 504.01,689.2 504.4,690.47 504.79,691.69 505.18,692.85 505.57,693.96 505.96,695.02 506.35,696.04 506.74,697.01 507.13,697.95 507.52,698.85 507.91,699.71 508.3,700.55 508.7,701.36 509.09,702.13 509.48,702.89 509.87,703.62 510.26,704.33 511.43,706.33 512.6,708.17 513.77,709.87 514.95,711.45 516.12,712.92 517.29,714.31 518.46,715.6 519.64,716.82 520.81,717.97 521.98,719.06 523.15,720.08 524.32,721.05 525.5,721.96 526.67,722.83 527.84,723.65 529.01,724.42 530.18,725.16 531.36,725.86 532.53,726.52 533.7,727.14 534.87,727.73 536.04,728.3 537.22,728.83 538.39,729.34 539.56,729.81 540.73,730.27 541.91,730.7 543.08,731.11 544.25,731.5 545.42,731.86 546.59,732.21 547.77,732.54 548.94,732.86 550.11,733.16 551.28,733.44 552.45,733.71 553.63,733.96 554.8,734.21 555.97,734.44 557.14,734.65 558.31,734.86 559.49,735.06 560.66,735.24 561.83,735.42 563,735.59 564.18,735.75 565.35,735.9 566.52,736.05 567.69,736.18 568.86,736.31 570.04,736.44 571.21,736.56 572.38,736.67 573.55,736.78 574.72,736.88 575.9,736.98 577.07,737.07 578.24,737.16 579.41,737.24 580.58,737.32 581.76,737.4 582.93,737.47 584.1,737.54 585.27,737.6 586.44,737.67 587.62,737.73 588.79,737.78 589.96,737.84 591.13,737.89 592.31,737.94 593.48,737.99 594.65,738.04 595.82,738.08 596.99,738.12 598.17,738.16 599.34,738.2 600.51,738.24 601.68,738.27 602.85,738.31 604.03,738.34 605.2,738.37 606.37,738.4 607.54,738.43 608.71,738.46 609.89,738.49 611.06,738.51 612.23,738.54 613.4,738.56 614.58,738.58 615.75,738.61 616.92,738.63 618.09,738.65 619.26,738.67" fill="none" stroke="#f030f0" stroke-width="0.75"/>
<polyline points="400.63,748.4 404.54,748.4 408.44,748.4 412.35,748.4 416.26,748.4 420.16,748.4 424.07,748.4 424.85,745.4 425.63,742.65 426.41,740.12 427.2,737.81 427.98,735.68 428.76,733.73 429.54,731.94 430.32,730.29 431.1,728.77 431.88,727.38 432.67,726.1 433.45,724.92 434.23,723.83 435.01,722.82 435.79,721.9 436.57,721.04 437.35,720.25 438.14,719.52 438.92,718.84 439.7,718.21 440.48,717.63 441.26,717.09 442.04,716.59 442.82,716.13 443.61,715.69 444.39,715.29 445.17,714.91 445.95,714.56 446.73,714.23 447.51,713.93 448.29,713.64 449.07,713.37 449.86,713.12 450.64,712.88 451.42,712.66 452.2,712.45 452.98,712.25 453.76,712.06 454.54,711.88 455.33,711.72 456.11,711.56 456.89,711.41 457.67,711.27 458.45,711.13 459.23,711 460.01,710.88 460.8,710.76 461.58,710.65 462.36,710.54 463.14,710.44 463.92,710.34 464.7,710.25 465.48,710.16 466.27,710.07 467.05,709.99 467.83,709.91 468.61,709.83 469.39,709.76 470.17,709.69 470.95,709.62 471.74,709.55 472.52,709.49 473.3,709.42 474.08,709.36 474.86,709.31 475.64,709.25 476.42,709.2 477.21,709.14 477.99,709.09 478.77,709.04 479.55,708.99 480.33,708.95 481.11,708.9 481.89,708.86 482.68,708.82 483.46,708.77 484.24,708.73 485.02,708.69 485.8,708.66 486.58,708.62 487.36,708.58 488.14,708.55 488.93,708.51 489.71,708.48 490.49,708.45 491.27,708.42 492.05,708.39 492.83,708.36 493.61,708.33 494.4,708.3 495.18,708.27 495.96,708.24 496.74,708.22 497.52,708.19 498.3,708.17 499.08,708.14 499.87,708.12 500.65,708.09 501.43,708.07 502.21,708.05 502.44,708.05 502.84,709.03 503.23,709.96 503.62,710.84 504.01,711.67 504.4,712.46 504.79,713.22 505.18,713.94 505.57,714.63 505.96,715.29 506.35,715.92 506.74,716.52 507.13,717.1 507.52,717.66 507.91,718.2 508.3,718.71 508.7,719.21 509.09,719.7 509.48,720.17 509.87,720.62 510.26,721.06 511.43,722.3 512.6,723.44 513.77,724.5 514.95,725.48 516.12,726.39 517.29,727.25 518.46,728.05 519.64,728.81 520.81,729.52 521.98,730.2 523.15,730.83 524.32,731.43 525.5,732 526.67,732.54 527.84,733.04 529.01,733.53 530.18,733.98 531.36,734.41 532.53,734.82 533.7,735.21 534.87,735.58 536.04,735.93 537.22,736.26 538.39,736.57 539.56,736.87 540.73,737.15 541.91,737.42 543.08,737.67 544.25,737.91 545.42,738.14 546.59,738.36 547.77,738.56 548.94,738.76 550.11,738.94 551.28,739.12 552.45,739.29 553.63,739.44 554.8,739.59 555.97,739.74 557.14,739.87 558.31,740 559.49,740.12 560.66,740.24 561.83,740.35 563,740.45 564.18,740.55 565.35,740.65 566.52,740.74 567.69,740.82 568.86,740.9 570.04,740.98 571.21,741.05 572.38,741.12 573.55,741.19 574.72,741.25 575.9,741.31 577.07,741.37 578.24,741.42 579.41,741.48 580.58,741.53 581.76,741.57 582.93,741.62 584.1,741.66 585.27,741.7 586.44,741.74 587.62,741.78 588.79,741.81 589.96,741.85 591.13,741.88 592.31,741.91 593.48,741.94 594.65,741.97 595.82,742 596.99,742.02 598.17,742.05 599.34,742.07 600.51,742.1 601.68,742.12 602.85,742.14 604.03,742.16 605.2,742.18 606.37,742.2 607.54,742.22 608.71,742.23 609.89,742.25 611.06,742.27 612.23,742.28 613.4,742.3 614.58,742.31 615.75,742.32 616.92,742.34 618.09,742.35 619.26,742.36" fill="none" stroke="#2424f0" stroke-width="0.75"/>
<polyline points="400.63,748.4 404.54,748.4 408.44,748.4 412.35,748.4 416.26,748.4 420.16,748.4 424.07,748.4 424.85,746.93 425.63,745.57 426.41,744.3 427.2,743.11 427.98,742 428.76,740.97 429.54,740.01 430.32,739.11 431.1,738.27 431.88,737.49 432.67,736.75 433.45,736.07 434.23,735.43 435.01,734.83 435.79,734.28 436.57,733.75 437.35,733.26 438.14,732.8 438.92,732.37 439.7,731.97 440.48,731.59 441.26,731.24 442.04,730.91 442.82,730.59 443.61,730.3 444.39,730.03 445.17,729.77 445.95,729.52 446.73,729.29 447.51,729.08 448.29,728.87 449.07,728.68 449.86,728.5 450.64,728.33 451.42,728.16 452.2,728.01 452.98,727.87 453.76,727.73 454.54,727.6 455.33,727.47 456.11,727.36 456.89,727.25 457.67,727.14 458.45,727.04 459.23,726.95 460.01,726.85 460.8,726.77 461.58,726.69 462.36,726.61 463.14,726.53 463.92,726.46 464.7,726.39 465.48,726.33 466.27,726.27 467.05,726.21 467.83,726.15 468.61,726.09 469.39,726.04 470.17,725.99 470.95,725.94 471.74,725.89 472.52,725.85 473.3,725.81 474.08,725.77 474.86,725.73 475.64,725.69 476.42,725.65 477.21,725.61 477.99,725.58 478.77,725.55 479.55,725.51 480.33,725.48 481.11,725.45 481.89,725.42 482.68,725.4 483.46,725.37 484.24,725.34 485.02,725.32 485.8,725.29 486.58,725.27 487.36,725.24 488.14,725.22 488.93,725.2 489.71,725.18 490.49,725.16 491.27,725.14 492.05,725.12 492.83,725.1 493.61,725.08 494.4,725.06 495.18,725.05 495.96,725.03 496.74,725.01 497.52,725 498.3,724.98 499.08,724.97 499.87,724.95 500.65,724.94 501.43,724.93 502.21,724.91 502.44,724.91 502.84,725.48 503.23,726.02 503.62,726.54 504.01,727.02 504.4,727.48 504.79,727.92 505.18,728.34 505.57,728.74 505.96,729.12 506.35,729.49 506.74,729.84 507.13,730.18 507.52,730.51 507.91,730.82 508.3,731.12 508.7,731.41 509.09,731.69 509.48,731.97 509.87,732.23 510.26,732.48 511.43,733.21 512.6,733.87 513.77,734.49 514.95,735.06 516.12,735.59 517.29,736.09 518.46,736.56 519.64,737 520.81,737.41 521.98,737.8 523.15,738.17 524.32,738.52 525.5,738.85 526.67,739.17 527.84,739.46 529.01,739.74 530.18,740.01 531.36,740.26 532.53,740.5 533.7,740.72 534.87,740.94 536.04,741.14 537.22,741.33 538.39,741.52 539.56,741.69 540.73,741.85 541.91,742.01 543.08,742.16 544.25,742.3 545.42,742.43 546.59,742.56 547.77,742.67 548.94,742.79 550.11,742.9 551.28,743 552.45,743.09 553.63,743.19 554.8,743.27 555.97,743.36 557.14,743.44 558.31,743.51 559.49,743.58 560.66,743.65 561.83,743.71 563,743.77 564.18,743.83 565.35,743.89 566.52,743.94 567.69,743.99 568.86,744.04 570.04,744.08 571.21,744.12 572.38,744.16 573.55,744.2 574.72,744.24 575.9,744.27 577.07,744.31 578.24,744.34 579.41,744.37 580.58,744.4 581.76,744.43 582.93,744.45 584.1,744.48 585.27,744.5 586.44,744.52 587.62,744.55 588.79,744.57 589.96,744.59 591.13,744.61 592.31,744.62 593.48,744.64 594.65,744.66 595.82,744.67 596.99,744.69 598.17,744.7 599.34,744.72 600.51,744.73 601.68,744.74 602.85,744.76 604.03,744.77 605.2,744.78 606.37,744.79 607.54,744.8 608.71,744.81 609.89,744.82 611.06,744.83 612.23,744.84 613.4,744.85 614.58,744.86 615.75,744.86 616.92,744.87 618.09,744.88 619.26,744.89" fill="none" stroke="#1f7a2a" stroke-width="0.75"/>
<polyline points="400.63,748.4 404.54,748.4 408.44,748.4 412.35,748.4 416.26,748.4 420.16,748.4 424.07,748.4 424.85,747.65 425.63,746.95 426.41,746.29 427.2,745.67 427.98,745.09 428.76,744.54 429.54,744.03 430.32,743.55 431.1,743.09 431.88,742.66 432.67,742.26 433.45,741.88 434.23,741.53 435.01,741.19 435.79,740.87 436.57,740.57 437.35,740.29 438.14,740.03 438.92,739.78 439.7,739.54 440.48,739.32 441.26,739.11 442.04,738.91 442.82,738.73 443.61,738.55 444.39,738.38 445.17,738.22 445.95,738.07 446.73,737.93 447.51,737.8 448.29,737.67 449.07,737.55 449.86,737.44 450.64,737.33 451.42,737.23 452.2,737.13 452.98,737.04 453.76,736.95 454.54,736.87 455.33,736.79 456.11,736.71 456.89,736.64 457.67,736.58 458.45,736.51 459.23,736.45 460.01,736.39 460.8,736.33 461.58,736.28 462.36,736.23 463.14,736.18 463.92,736.13 464.7,736.09 465.48,736.05 466.27,736.01 467.05,735.97 467.83,735.93 468.61,735.89 469.39,735.86 470.17,735.83 470.95,735.8 471.74,735.77 472.52,735.74 473.3,735.71 474.08,735.68 474.86,735.66 475.64,735.63 476.42,735.61 477.21,735.59 477.99,735.56 478.77,735.54 479.55,735.52 480.33,735.5 481.11,735.48 481.89,735.47 482.68,735.45 483.46,735.43 484.24,735.41 485.02,735.4 485.8,735.38 486.58,735.37 487.36,735.35 488.14,735.34 488.93,735.33 489.71,735.31 490.49,735.3 491.27,735.29 492.05,735.28 492.83,735.26 493.61,735.25 494.4,735.24 495.18,735.23 495.96,735.22 496.74,735.21 497.52,735.2 498.3,735.19 499.08,735.18 499.87,735.18 500.65,735.17 501.43,735.16 502.21,735.15 502.44,735.15 502.84,735.47 503.23,735.78 503.62,736.07 504.01,736.34 504.4,736.6 504.79,736.85 505.18,737.08 505.57,737.31 505.96,737.53 506.35,737.73 506.74,737.93 507.13,738.12 507.52,738.31 507.91,738.48 508.3,738.65 508.7,738.82 509.09,738.98 509.48,739.13 509.87,739.28 510.26,739.42 511.43,739.83 512.6,740.2 513.77,740.55 514.95,740.87 516.12,741.17 517.29,741.45 518.46,741.72 519.64,741.97 520.81,742.2 521.98,742.42 523.15,742.63 524.32,742.83 525.5,743.01 526.67,743.19 527.84,743.36 529.01,743.52 530.18,743.67 531.36,743.81 532.53,743.94 533.7,744.07 534.87,744.19 536.04,744.3 537.22,744.41 538.39,744.52 539.56,744.61 540.73,744.71 541.91,744.79 543.08,744.88 544.25,744.96 545.42,745.03 546.59,745.1 547.77,745.17 548.94,745.23 550.11,745.29 551.28,745.35 552.45,745.41 553.63,745.46 554.8,745.51 555.97,745.56 557.14,745.6 558.31,745.64 559.49,745.68 560.66,745.72 561.83,745.76 563,745.79 564.18,745.82 565.35,745.85 566.52,745.88 567.69,745.91 568.86,745.94 570.04,745.96 571.21,745.99 572.38,746.01 573.55,746.03 574.72,746.05 575.9,746.07 577.07,746.09 578.24,746.11 579.41,746.13 580.58,746.14 581.76,746.16 582.93,746.17 584.1,746.19 585.27,746.2 586.44,746.21 587.62,746.23 588.79,746.24 589.96,746.25 591.13,746.26 592.31,746.27 593.48,746.28 594.65,746.29 595.82,746.3 596.99,746.31 598.17,746.31 599.34,746.32 600.51,746.33 601.68,746.34 602.85,746.34 604.03,746.35 605.2,746.36 606.37,746.36 607.54,746.37 608.71,746.37 609.89,746.38 611.06,746.39 612.23,746.39 613.4,746.4 614.58,746.4 615.75,746.41 616.92,746.41 618.09,746.41 619.26,746.42" fill="none" stroke="#e02020" stroke-width="0.75"/>
<polyline points="424.07,748.4 424.85,726.72 425.63,708.8 426.41,693.97 427.2,681.72 427.98,671.58 428.76,663.2 429.54,656.26 430.32,650.53 431.1,645.79 431.88,641.87 432.67,638.63 433.45,635.94 434.23,633.73 435.01,631.89 435.79,630.38 436.57,629.12 437.35,628.09 438.14,627.23 438.92,626.52 439.7,625.93 440.48,625.45 441.26,625.05 442.04,624.72 442.82,624.44 443.61,624.22 444.39,624.03 445.17,623.87 445.95,623.74 446.73,623.64 447.51,623.55 448.29,623.48 449.07,623.42 449.86,623.37 450.64,623.33 451.42,623.29 452.2,623.27 452.98,623.24 453.76,623.22 454.54,623.21 455.33,623.19 456.11,623.18 456.89,623.17 457.67,623.17 458.45,623.16 459.23,623.16 460.01,623.15 460.8,623.15 461.58,623.15 462.36,623.14 463.14,623.14 463.92,623.14 464.7,623.14 465.48,623.14 466.27,623.14 467.05,623.14 467.83,623.13 468.61,623.13 469.39,623.13 470.17,623.13 470.95,623.13 471.74,623.13 472.52,623.13 473.3,623.13 474.08,623.13 474.86,623.13 475.64,623.13 476.42,623.13 477.21,623.13 477.99,623.13 478.77,623.13 479.55,623.13 480.33,623.13 481.11,623.13 481.89,623.13 482.68,623.13 483.46,623.13 484.24,623.13 485.02,623.13 485.8,623.13 486.58,623.13 487.36,623.13 488.14,623.13 488.93,623.13 489.71,623.13 490.49,623.13 491.27,623.13 492.05,623.13 492.83,623.13 493.61,623.13 494.4,623.13 495.18,623.13 495.96,623.13 496.74,623.13 497.52,623.13 498.3,623.13 499.08,623.13 499.87,623.13 500.65,623.13 501.43,623.13 502.21,623.13 502.21,648.19 502.99,651.65 503.77,654.98 504.55,658.2 505.34,661.3 506.12,664.28 506.9,667.16 507.68,669.93 508.46,672.6 509.24,675.17 510.02,677.65 510.81,680.04 511.59,682.35 512.37,684.57 513.15,686.71 513.93,688.77 514.71,690.76 515.49,692.67 516.28,694.52 517.06,696.3 517.84,698.01 518.62,699.67 519.4,701.26 520.18,702.8 520.96,704.28 521.75,705.71 522.53,707.09 523.31,708.42 524.09,709.7 524.87,710.94 525.65,712.13 526.43,713.28 527.21,714.39 528,715.46 528.78,716.49 529.56,717.48 530.34,718.44 531.12,719.37 531.9,720.26 532.68,721.12 533.47,721.96 534.25,722.76 535.03,723.53 535.81,724.28 536.59,725 537.37,725.7 538.15,726.37 538.94,727.02 539.72,727.64 540.5,728.25 541.28,728.83 542.06,729.4 542.84,729.94 543.62,730.46 544.41,730.97 545.19,731.46 545.97,731.94 546.75,732.39 547.53,732.84 548.31,733.26 549.09,733.67 549.88,734.07 550.66,734.46 551.44,734.83 552.22,735.19 553,735.54 553.78,735.88 554.56,736.2 555.35,736.52 556.13,736.82 556.91,737.11 557.69,737.4 558.47,737.67 559.25,737.94 560.03,738.2 560.82,738.45 561.6,738.69 562.38,738.92 563.16,739.15 563.94,739.37 564.72,739.58 565.5,739.79 566.28,739.99 567.07,740.18 567.85,740.37 568.63,740.55 569.41,740.72 570.19,740.89 570.97,741.06 571.75,741.22 572.54,741.38 573.32,741.53 574.1,741.67 574.88,741.81 575.66,741.95 576.44,742.08 577.22,742.21 578.01,742.34 578.79,742.46 579.57,742.58 580.35,742.7 581.13,742.81 581.91,742.92 582.69,743.02 583.48,743.12 584.26,743.22 585.04,743.32 585.82,743.42 586.6,743.51 587.38,743.6 588.16,743.68 588.95,743.77 589.73,743.85 590.51,743.93 591.29,744.01 592.07,744.09 592.85,744.16 593.63,744.23 594.42,744.3 595.2,744.37 595.98,744.44 596.76,744.5 597.54,744.57 598.32,744.63 599.1,744.69 599.88,744.75 600.67,744.81 601.45,744.86 602.23,744.92 603.01,744.97 603.79,745.02 604.57,745.07 605.35,745.12 606.14,745.17 606.92,745.22 607.7,745.27 608.48,745.31 609.26,745.36 610.04,745.4 610.82,745.45 611.61,745.49 612.39,745.53 613.17,745.57 613.95,745.61 614.73,745.65 615.51,745.68 616.29,745.72 617.08,745.76 617.86,745.79 618.64,745.83 619.42,745.86" fill="none" stroke="#111" stroke-width="0.75"/>
<polyline points="424.07,748.4 424.85,740 425.63,732.33 426.41,725.31 427.2,718.9 427.98,713.04 428.76,707.69 429.54,702.79 430.32,698.32 431.1,694.23 431.88,690.5 432.67,687.08 433.45,683.96 434.23,681.11 435.01,678.5 435.79,676.12 436.57,673.94 437.35,671.95 438.14,670.13 438.92,668.47 439.7,666.95 440.48,665.56 441.26,664.3 442.04,663.14 442.82,662.08 443.61,661.11 444.39,660.22 445.17,659.41 445.95,658.67 446.73,658 447.51,657.38 448.29,656.82 449.07,656.3 449.86,655.83 450.64,655.4 451.42,655 452.2,654.64 452.98,654.32 453.76,654.02 454.54,653.74 455.33,653.49 456.11,653.26 456.89,653.05 457.67,652.86 458.45,652.68 459.23,652.52 460.01,652.38 460.8,652.24 461.58,652.12 462.36,652.01 463.14,651.91 463.92,651.81 464.7,651.73 465.48,651.65 466.27,651.58 467.05,651.51 467.83,651.46 468.61,651.4 469.39,651.35 470.17,651.31 470.95,651.26 471.74,651.23 472.52,651.19 473.3,651.16 474.08,651.13 474.86,651.1 475.64,651.08 476.42,651.06 477.21,651.04 477.99,651.02 478.77,651 479.55,650.99 480.33,650.97 481.11,650.96 481.89,650.95 482.68,650.94 483.46,650.93 484.24,650.92 485.02,650.91 485.8,650.9 486.58,650.9 487.36,650.89 488.14,650.88 488.93,650.88 489.71,650.87 490.49,650.87 491.27,650.87 492.05,650.86 492.83,650.86 493.61,650.86 494.4,650.85 495.18,650.85 495.96,650.85 496.74,650.85 497.52,650.84 498.3,650.84 499.08,650.84 499.87,650.84 500.65,650.84 501.43,650.84 502.21,650.84 502.21,653.76 502.99,657.03 503.77,660.18 504.55,663.22 505.34,666.14 506.12,668.96 506.9,671.68 507.68,674.3 508.46,676.82 509.24,679.25 510.02,681.59 510.81,683.85 511.59,686.02 512.37,688.12 513.15,690.14 513.93,692.09 514.71,693.96 515.49,695.77 516.28,697.52 517.06,699.2 517.84,700.82 518.62,702.38 519.4,703.89 520.18,705.34 520.96,706.74 521.75,708.09 522.53,709.39 523.31,710.65 524.09,711.86 524.87,713.02 525.65,714.15 526.43,715.23 527.21,716.28 528,717.29 528.78,718.26 529.56,719.2 530.34,720.11 531.12,720.99 531.9,721.83 532.68,722.64 533.47,723.43 534.25,724.19 535.03,724.92 535.81,725.62 536.59,726.3 537.37,726.96 538.15,727.6 538.94,728.21 539.72,728.8 540.5,729.37 541.28,729.92 542.06,730.45 542.84,730.97 543.62,731.46 544.41,731.94 545.19,732.4 545.97,732.85 546.75,733.28 547.53,733.7 548.31,734.1 549.09,734.49 549.88,734.87 550.66,735.23 551.44,735.59 552.22,735.93 553,736.26 553.78,736.57 554.56,736.88 555.35,737.18 556.13,737.46 556.91,737.74 557.69,738.01 558.47,738.27 559.25,738.52 560.03,738.77 560.82,739 561.6,739.23 562.38,739.45 563.16,739.67 563.94,739.87 564.72,740.07 565.5,740.27 566.28,740.46 567.07,740.64 567.85,740.81 568.63,740.99 569.41,741.15 570.19,741.31 570.97,741.47 571.75,741.62 572.54,741.77 573.32,741.91 574.1,742.05 574.88,742.18 575.66,742.31 576.44,742.44 577.22,742.56 578.01,742.68 578.79,742.79 579.57,742.9 580.35,743.01 581.13,743.12 581.91,743.22 582.69,743.32 583.48,743.42 584.26,743.51 585.04,743.6 585.82,743.69 586.6,743.78 587.38,743.86 588.16,743.95 588.95,744.03 589.73,744.1 590.51,744.18 591.29,744.25 592.07,744.33 592.85,744.4 593.63,744.46 594.42,744.53 595.2,744.6 595.98,744.66 596.76,744.72 597.54,744.78 598.32,744.84 599.1,744.9 599.88,744.95 600.67,745.01 601.45,745.06 602.23,745.11 603.01,745.16 603.79,745.21 604.57,745.26 605.35,745.31 606.14,745.35 606.92,745.4 607.7,745.44 608.48,745.49 609.26,745.53 610.04,745.57 610.82,745.61 611.61,745.65 612.39,745.69 613.17,745.73 613.95,745.76 614.73,745.8 615.51,745.84 616.29,745.87 617.08,745.9 617.86,745.94 618.64,745.97 619.42,746" fill="none" stroke="#111" stroke-width="0.75"/>
<polyline points="424.07,748.4 424.85,744.39 425.63,740.62 426.41,737.06 427.2,733.71 427.98,730.56 428.76,727.59 429.54,724.8 430.32,722.16 431.1,719.68 431.88,717.35 432.67,715.15 433.45,713.07 434.23,711.12 435.01,709.29 435.79,707.56 436.57,705.93 437.35,704.39 438.14,702.95 438.92,701.59 439.7,700.3 440.48,699.1 441.26,697.96 442.04,696.89 442.82,695.88 443.61,694.93 444.39,694.04 445.17,693.19 445.95,692.4 446.73,691.65 447.51,690.95 448.29,690.29 449.07,689.66 449.86,689.08 450.64,688.52 451.42,688 452.2,687.51 452.98,687.05 453.76,686.61 454.54,686.2 455.33,685.82 456.11,685.45 456.89,685.11 457.67,684.79 458.45,684.48 459.23,684.2 460.01,683.93 460.8,683.68 461.58,683.44 462.36,683.21 463.14,683 463.92,682.8 464.7,682.61 465.48,682.44 466.27,682.27 467.05,682.11 467.83,681.96 468.61,681.82 469.39,681.69 470.17,681.57 470.95,681.45 471.74,681.34 472.52,681.24 473.3,681.14 474.08,681.05 474.86,680.97 475.64,680.88 476.42,680.81 477.21,680.74 477.99,680.67 478.77,680.6 479.55,680.54 480.33,680.49 481.11,680.43 481.89,680.38 482.68,680.34 483.46,680.29 484.24,680.25 485.02,680.21 485.8,680.17 486.58,680.14 487.36,680.11 488.14,680.08 488.93,680.05 489.71,680.02 490.49,679.99 491.27,679.97 492.05,679.95 492.83,679.92 493.61,679.9 494.4,679.88 495.18,679.87 495.96,679.85 496.74,679.83 497.52,679.82 498.3,679.8 499.08,679.79 499.87,679.78 500.65,679.77 501.43,679.75 502.21,679.74 502.21,685.24 502.99,687.42 503.77,689.52 504.55,691.55 505.34,693.5 506.12,695.38 506.9,697.19 507.68,698.94 508.46,700.62 509.24,702.25 510.02,703.81 510.81,705.32 511.59,706.77 512.37,708.17 513.15,709.51 513.93,710.81 514.71,712.07 515.49,713.28 516.28,714.44 517.06,715.56 517.84,716.64 518.62,717.69 519.4,718.69 520.18,719.66 520.96,720.59 521.75,721.5 522.53,722.36 523.31,723.2 524.09,724.01 524.87,724.79 525.65,725.54 526.43,726.26 527.21,726.96 528,727.64 528.78,728.29 529.56,728.91 530.34,729.52 531.12,730.1 531.9,730.67 532.68,731.21 533.47,731.73 534.25,732.24 535.03,732.73 535.81,733.2 536.59,733.65 537.37,734.09 538.15,734.51 538.94,734.92 539.72,735.32 540.5,735.7 541.28,736.07 542.06,736.42 542.84,736.76 543.62,737.1 544.41,737.42 545.19,737.72 545.97,738.02 546.75,738.31 547.53,738.59 548.31,738.86 549.09,739.12 549.88,739.37 550.66,739.61 551.44,739.85 552.22,740.07 553,740.29 553.78,740.51 554.56,740.71 555.35,740.91 556.13,741.1 556.91,741.29 557.69,741.47 558.47,741.64 559.25,741.81 560.03,741.97 560.82,742.13 561.6,742.28 562.38,742.43 563.16,742.57 563.94,742.71 564.72,742.84 565.5,742.97 566.28,743.1 567.07,743.22 567.85,743.34 568.63,743.45 569.41,743.56 570.19,743.67 570.97,743.77 571.75,743.87 572.54,743.97 573.32,744.07 574.1,744.16 574.88,744.25 575.66,744.34 576.44,744.42 577.22,744.5 578.01,744.58 578.79,744.66 579.57,744.73 580.35,744.8 581.13,744.88 581.91,744.94 582.69,745.01 583.48,745.08 584.26,745.14 585.04,745.2 585.82,745.26 586.6,745.32 587.38,745.37 588.16,745.43 588.95,745.48 589.73,745.53 590.51,745.58 591.29,745.63 592.07,745.68 592.85,745.73 593.63,745.77 594.42,745.82 595.2,745.86 595.98,745.9 596.76,745.94 597.54,745.98 598.32,746.02 599.1,746.06 599.88,746.1 600.67,746.13 601.45,746.17 602.23,746.2 603.01,746.24 603.79,746.27 604.57,746.3 605.35,746.34 606.14,746.37 606.92,746.4 607.7,746.43 608.48,746.46 609.26,746.48 610.04,746.51 610.82,746.54 611.61,746.56 612.39,746.59 613.17,746.62 613.95,746.64 614.73,746.66 615.51,746.69 616.29,746.71 617.08,746.73 617.86,746.76 618.64,746.78 619.42,746.8" fill="none" stroke="#111" stroke-width="0.75"/>
<polyline points="424.07,748.4 424.85,746.51 425.63,744.7 426.41,742.97 427.2,741.32 427.98,739.73 428.76,738.21 429.54,736.76 430.32,735.37 431.1,734.04 431.88,732.77 432.67,731.56 433.45,730.39 434.23,729.28 435.01,728.21 435.79,727.19 436.57,726.21 437.35,725.28 438.14,724.38 438.92,723.53 439.7,722.71 440.48,721.92 441.26,721.17 442.04,720.46 442.82,719.77 443.61,719.11 444.39,718.48 445.17,717.88 445.95,717.31 446.73,716.75 447.51,716.23 448.29,715.72 449.07,715.24 449.86,714.78 450.64,714.33 451.42,713.91 452.2,713.51 452.98,713.12 453.76,712.75 454.54,712.39 455.33,712.05 456.11,711.73 456.89,711.42 457.67,711.12 458.45,710.83 459.23,710.56 460.01,710.3 460.8,710.05 461.58,709.81 462.36,709.58 463.14,709.36 463.92,709.15 464.7,708.95 465.48,708.76 466.27,708.58 467.05,708.4 467.83,708.23 468.61,708.07 469.39,707.92 470.17,707.77 470.95,707.63 471.74,707.5 472.52,707.37 473.3,707.24 474.08,707.13 474.86,707.01 475.64,706.9 476.42,706.8 477.21,706.7 477.99,706.61 478.77,706.52 479.55,706.43 480.33,706.35 481.11,706.27 481.89,706.19 482.68,706.12 483.46,706.05 484.24,705.98 485.02,705.92 485.8,705.86 486.58,705.8 487.36,705.74 488.14,705.69 488.93,705.64 489.71,705.59 490.49,705.54 491.27,705.5 492.05,705.45 492.83,705.41 493.61,705.37 494.4,705.34 495.18,705.3 495.96,705.27 496.74,705.23 497.52,705.2 498.3,705.17 499.08,705.14 499.87,705.11 500.65,705.09 501.43,705.06 502.21,705.04 502.21,709.37 502.99,710.72 503.77,712.02 504.55,713.27 505.34,714.48 506.12,715.64 506.9,716.76 507.68,717.84 508.46,718.88 509.24,719.88 510.02,720.85 510.81,721.78 511.59,722.68 512.37,723.54 513.15,724.37 513.93,725.18 514.71,725.95 515.49,726.7 516.28,727.42 517.06,728.11 517.84,728.78 518.62,729.42 519.4,730.04 520.18,730.64 520.96,731.22 521.75,731.78 522.53,732.31 523.31,732.83 524.09,733.33 524.87,733.81 525.65,734.28 526.43,734.72 527.21,735.16 528,735.57 528.78,735.97 529.56,736.36 530.34,736.73 531.12,737.09 531.9,737.44 532.68,737.78 533.47,738.1 534.25,738.41 535.03,738.72 535.81,739.01 536.59,739.29 537.37,739.56 538.15,739.82 538.94,740.07 539.72,740.32 540.5,740.55 541.28,740.78 542.06,741 542.84,741.21 543.62,741.42 544.41,741.61 545.19,741.8 545.97,741.99 546.75,742.17 547.53,742.34 548.31,742.5 549.09,742.67 549.88,742.82 550.66,742.97 551.44,743.12 552.22,743.26 553,743.39 553.78,743.52 554.56,743.65 555.35,743.77 556.13,743.89 556.91,744.01 557.69,744.12 558.47,744.22 559.25,744.33 560.03,744.43 560.82,744.52 561.6,744.62 562.38,744.71 563.16,744.8 563.94,744.88 564.72,744.97 565.5,745.05 566.28,745.12 567.07,745.2 567.85,745.27 568.63,745.34 569.41,745.41 570.19,745.48 570.97,745.54 571.75,745.6 572.54,745.66 573.32,745.72 574.1,745.78 574.88,745.84 575.66,745.89 576.44,745.94 577.22,745.99 578.01,746.04 578.79,746.09 579.57,746.13 580.35,746.18 581.13,746.22 581.91,746.26 582.69,746.31 583.48,746.35 584.26,746.38 585.04,746.42 585.82,746.46 586.6,746.49 587.38,746.53 588.16,746.56 588.95,746.6 589.73,746.63 590.51,746.66 591.29,746.69 592.07,746.72 592.85,746.75 593.63,746.78 594.42,746.8 595.2,746.83 595.98,746.86 596.76,746.88 597.54,746.91 598.32,746.93 599.1,746.96 599.88,746.98 600.67,747 601.45,747.02 602.23,747.04 603.01,747.06 603.79,747.09 604.57,747.11 605.35,747.12 606.14,747.14 606.92,747.16 607.7,747.18 608.48,747.2 609.26,747.22 610.04,747.23 610.82,747.25 611.61,747.27 612.39,747.28 613.17,747.3 613.95,747.31 614.73,747.33 615.51,747.34 616.29,747.36 617.08,747.37 617.86,747.38 618.64,747.4 619.42,747.41" fill="none" stroke="#111" stroke-width="0.75"/>
<polyline points="424.07,748.4 424.85,747.5 425.63,746.64 426.41,745.8 427.2,745 427.98,744.22 428.76,743.47 429.54,742.75 430.32,742.05 431.1,741.37 431.88,740.73 432.67,740.1 433.45,739.49 434.23,738.91 435.01,738.35 435.79,737.81 436.57,737.28 437.35,736.78 438.14,736.29 438.92,735.82 439.7,735.37 440.48,734.93 441.26,734.51 442.04,734.11 442.82,733.71 443.61,733.34 444.39,732.97 445.17,732.62 445.95,732.28 446.73,731.95 447.51,731.64 448.29,731.33 449.07,731.04 449.86,730.75 450.64,730.48 451.42,730.21 452.2,729.96 452.98,729.71 453.76,729.48 454.54,729.25 455.33,729.03 456.11,728.82 456.89,728.61 457.67,728.41 458.45,728.22 459.23,728.04 460.01,727.86 460.8,727.69 461.58,727.52 462.36,727.36 463.14,727.21 463.92,727.06 464.7,726.92 465.48,726.78 466.27,726.65 467.05,726.52 467.83,726.4 468.61,726.28 469.39,726.16 470.17,726.05 470.95,725.94 471.74,725.84 472.52,725.74 473.3,725.64 474.08,725.55 474.86,725.46 475.64,725.37 476.42,725.29 477.21,725.21 477.99,725.13 478.77,725.06 479.55,724.98 480.33,724.91 481.11,724.85 481.89,724.78 482.68,724.72 483.46,724.66 484.24,724.6 485.02,724.55 485.8,724.49 486.58,724.44 487.36,724.39 488.14,724.34 488.93,724.29 489.71,724.25 490.49,724.2 491.27,724.16 492.05,724.12 492.83,724.08 493.61,724.04 494.4,724.01 495.18,723.97 495.96,723.94 496.74,723.91 497.52,723.87 498.3,723.84 499.08,723.82 499.87,723.79 500.65,723.76 501.43,723.73 502.21,723.71 502.21,726.18 502.99,726.94 503.77,727.68 504.55,728.4 505.34,729.08 506.12,729.75 506.9,730.38 507.68,731 508.46,731.59 509.24,732.16 510.02,732.71 510.81,733.24 511.59,733.75 512.37,734.24 513.15,734.72 513.93,735.18 514.71,735.62 515.49,736.04 516.28,736.45 517.06,736.85 517.84,737.23 518.62,737.59 519.4,737.95 520.18,738.29 520.96,738.62 521.75,738.93 522.53,739.24 523.31,739.53 524.09,739.82 524.87,740.09 525.65,740.36 526.43,740.61 527.21,740.86 528,741.09 528.78,741.32 529.56,741.54 530.34,741.76 531.12,741.96 531.9,742.16 532.68,742.35 533.47,742.54 534.25,742.71 535.03,742.89 535.81,743.05 536.59,743.21 537.37,743.37 538.15,743.51 538.94,743.66 539.72,743.8 540.5,743.93 541.28,744.06 542.06,744.19 542.84,744.31 543.62,744.42 544.41,744.54 545.19,744.64 545.97,744.75 546.75,744.85 547.53,744.95 548.31,745.04 549.09,745.13 549.88,745.22 550.66,745.31 551.44,745.39 552.22,745.47 553,745.55 553.78,745.62 554.56,745.69 555.35,745.76 556.13,745.83 556.91,745.9 557.69,745.96 558.47,746.02 559.25,746.08 560.03,746.14 560.82,746.19 561.6,746.25 562.38,746.3 563.16,746.35 563.94,746.4 564.72,746.44 565.5,746.49 566.28,746.53 567.07,746.58 567.85,746.62 568.63,746.66 569.41,746.7 570.19,746.74 570.97,746.77 571.75,746.81 572.54,746.84 573.32,746.88 574.1,746.91 574.88,746.94 575.66,746.97 576.44,747 577.22,747.03 578.01,747.06 578.79,747.08 579.57,747.11 580.35,747.14 581.13,747.16 581.91,747.18 582.69,747.21 583.48,747.23 584.26,747.25 585.04,747.27 585.82,747.29 586.6,747.32 587.38,747.33 588.16,747.35 588.95,747.37 589.73,747.39 590.51,747.41 591.29,747.43 592.07,747.44 592.85,747.46 593.63,747.48 594.42,747.49 595.2,747.51 595.98,747.52 596.76,747.54 597.54,747.55 598.32,747.56 599.1,747.58 599.88,747.59 600.67,747.6 601.45,747.62 602.23,747.63 603.01,747.64 603.79,747.65 604.57,747.66 605.35,747.67 606.14,747.68 606.92,747.7 607.7,747.71 608.48,747.72 609.26,747.73 610.04,747.74 610.82,747.74 611.61,747.75 612.39,747.76 613.17,747.77 613.95,747.78 614.73,747.79 615.51,747.8 616.29,747.81 617.08,747.81 617.86,747.82 618.64,747.83 619.42,747.84" fill="none" stroke="#111" stroke-width="0.75"/>
<polyline points="424.07,748.4 424.85,747.96 425.63,747.54 426.41,747.14 427.2,746.74 427.98,746.36 428.76,745.99 429.54,745.63 430.32,745.28 431.1,744.94 431.88,744.62 432.67,744.3 433.45,744 434.23,743.7 435.01,743.41 435.79,743.13 436.57,742.87 437.35,742.6 438.14,742.35 438.92,742.11 439.7,741.87 440.48,741.64 441.26,741.42 442.04,741.2 442.82,741 443.61,740.79 444.39,740.6 445.17,740.41 445.95,740.23 446.73,740.05 447.51,739.88 448.29,739.71 449.07,739.55 449.86,739.39 450.64,739.24 451.42,739.09 452.2,738.95 452.98,738.81 453.76,738.68 454.54,738.55 455.33,738.43 456.11,738.31 456.89,738.19 457.67,738.08 458.45,737.97 459.23,737.86 460.01,737.76 460.8,737.66 461.58,737.56 462.36,737.47 463.14,737.38 463.92,737.29 464.7,737.2 465.48,737.12 466.27,737.04 467.05,736.96 467.83,736.89 468.61,736.82 469.39,736.75 470.17,736.68 470.95,736.61 471.74,736.55 472.52,736.49 473.3,736.43 474.08,736.37 474.86,736.31 475.64,736.26 476.42,736.21 477.21,736.16 477.99,736.11 478.77,736.06 479.55,736.01 480.33,735.97 481.11,735.92 481.89,735.88 482.68,735.84 483.46,735.8 484.24,735.76 485.02,735.73 485.8,735.69 486.58,735.66 487.36,735.62 488.14,735.59 488.93,735.56 489.71,735.53 490.49,735.5 491.27,735.47 492.05,735.44 492.83,735.41 493.61,735.39 494.4,735.36 495.18,735.34 495.96,735.31 496.74,735.29 497.52,735.27 498.3,735.25 499.08,735.23 499.87,735.21 500.65,735.19 501.43,735.17 502.21,735.15 502.21,736.48 502.99,736.89 503.77,737.28 504.55,737.67 505.34,738.04 506.12,738.39 506.9,738.73 507.68,739.06 508.46,739.38 509.24,739.69 510.02,739.98 510.81,740.27 511.59,740.54 512.37,740.8 513.15,741.06 513.93,741.3 514.71,741.54 515.49,741.77 516.28,741.99 517.06,742.2 517.84,742.4 518.62,742.6 519.4,742.79 520.18,742.97 520.96,743.15 521.75,743.32 522.53,743.48 523.31,743.64 524.09,743.8 524.87,743.94 525.65,744.08 526.43,744.22 527.21,744.35 528,744.48 528.78,744.6 529.56,744.72 530.34,744.84 531.12,744.95 531.9,745.05 532.68,745.15 533.47,745.25 534.25,745.35 535.03,745.44 535.81,745.53 536.59,745.62 537.37,745.7 538.15,745.78 538.94,745.86 539.72,745.93 540.5,746 541.28,746.07 542.06,746.14 542.84,746.2 543.62,746.27 544.41,746.33 545.19,746.38 545.97,746.44 546.75,746.5 547.53,746.55 548.31,746.6 549.09,746.65 549.88,746.7 550.66,746.74 551.44,746.79 552.22,746.83 553,746.87 553.78,746.91 554.56,746.95 555.35,746.99 556.13,747.02 556.91,747.06 557.69,747.09 558.47,747.12 559.25,747.16 560.03,747.19 560.82,747.22 561.6,747.24 562.38,747.27 563.16,747.3 563.94,747.33 564.72,747.35 565.5,747.38 566.28,747.4 567.07,747.42 567.85,747.44 568.63,747.47 569.41,747.49 570.19,747.51 570.97,747.53 571.75,747.55 572.54,747.56 573.32,747.58 574.1,747.6 574.88,747.62 575.66,747.63 576.44,747.65 577.22,747.66 578.01,747.68 578.79,747.69 579.57,747.71 580.35,747.72 581.13,747.73 581.91,747.75 582.69,747.76 583.48,747.77 584.26,747.78 585.04,747.8 585.82,747.81 586.6,747.82 587.38,747.83 588.16,747.84 588.95,747.85 589.73,747.86 590.51,747.87 591.29,747.88 592.07,747.89 592.85,747.9 593.63,747.9 594.42,747.91 595.2,747.92 595.98,747.93 596.76,747.94 597.54,747.94 598.32,747.95 599.1,747.96 599.88,747.97 600.67,747.97 601.45,747.98 602.23,747.99 603.01,747.99 603.79,748 604.57,748 605.35,748.01 606.14,748.02 606.92,748.02 607.7,748.03 608.48,748.03 609.26,748.04 610.04,748.04 610.82,748.05 611.61,748.05 612.39,748.06 613.17,748.06 613.95,748.07 614.73,748.07 615.51,748.08 616.29,748.08 617.08,748.09 617.86,748.09 618.64,748.09 619.42,748.1" fill="none" stroke="#111" stroke-width="0.75"/>
</svg>
</body></html>
